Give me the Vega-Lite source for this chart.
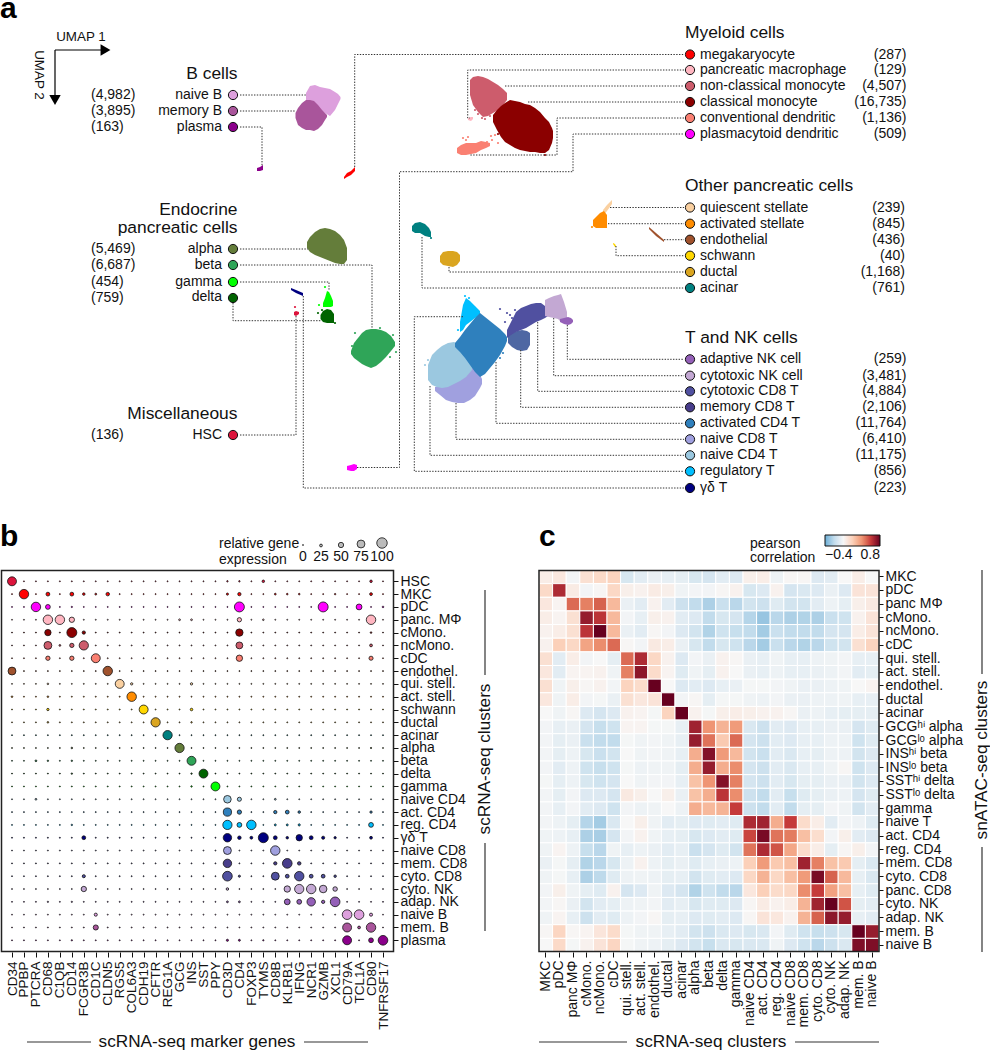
{"$schema":"https://vega.github.io/schema/vega-lite/v6.json","width":990,"height":1050,"autosize":{"type":"none"},"padding":0,"background":"white",
"config":{"view":{"stroke":null},"font":"Liberation Sans","text":{"font":"Liberation Sans","color":"#111"},"axis":{"grid":false,"domain":false,"title":null,"tickColor":"#111","tickWidth":1,"labelColor":"#111","labelOverlap":false,"labelBound":false,"labelFlush":false}},
"resolve":{"scale":{"x":"independent","y":"independent","color":"independent","size":"independent"},"axis":{"x":"independent","y":"independent"}},
"datasets":{"dots":[
{"c":"HSC","g":"CD34","v":85},{"c":"HSC","g":"PPBP","v":0},{"c":"HSC","g":"PTCRA","v":0},{"c":"HSC","g":"CD68","v":0},{"c":"HSC","g":"C1QB","v":0},{"c":"HSC","g":"CD14","v":0},{"c":"HSC","g":"FCGR3B","v":0},{"c":"HSC","g":"CD1C","v":0},{"c":"HSC","g":"CLDN5","v":0},{"c":"HSC","g":"RGS5","v":0},{"c":"HSC","g":"COL6A3","v":0},{"c":"HSC","g":"CDH19","v":0},{"c":"HSC","g":"CFTR","v":0},{"c":"HSC","g":"REG1A","v":0},{"c":"HSC","g":"GCG","v":0},{"c":"HSC","g":"INS","v":0},{"c":"HSC","g":"SST","v":0},{"c":"HSC","g":"PPY","v":0},{"c":"HSC","g":"CD3D","v":10},{"c":"HSC","g":"CD4","v":10},{"c":"HSC","g":"FOXP3","v":0},{"c":"HSC","g":"TYMS","v":22},{"c":"HSC","g":"CD8B","v":0},{"c":"HSC","g":"KLRB1","v":0},{"c":"HSC","g":"IFNG","v":0},{"c":"HSC","g":"NCR1","v":0},{"c":"HSC","g":"GZMB","v":0},{"c":"HSC","g":"XCL1","v":0},{"c":"HSC","g":"CD79A","v":0},{"c":"HSC","g":"TCL1A","v":0},{"c":"HSC","g":"CD80","v":22},{"c":"HSC","g":"TNFRSF17","v":0},
{"c":"MKC","g":"CD34","v":0},{"c":"MKC","g":"PPBP","v":90},{"c":"MKC","g":"PTCRA","v":0},{"c":"MKC","g":"CD68","v":35},{"c":"MKC","g":"C1QB","v":0},{"c":"MKC","g":"CD14","v":35},{"c":"MKC","g":"FCGR3B","v":22},{"c":"MKC","g":"CD1C","v":15},{"c":"MKC","g":"CLDN5","v":32},{"c":"MKC","g":"RGS5","v":0},{"c":"MKC","g":"COL6A3","v":0},{"c":"MKC","g":"CDH19","v":0},{"c":"MKC","g":"CFTR","v":0},{"c":"MKC","g":"REG1A","v":0},{"c":"MKC","g":"GCG","v":0},{"c":"MKC","g":"INS","v":0},{"c":"MKC","g":"SST","v":0},{"c":"MKC","g":"PPY","v":0},{"c":"MKC","g":"CD3D","v":18},{"c":"MKC","g":"CD4","v":30},{"c":"MKC","g":"FOXP3","v":0},{"c":"MKC","g":"TYMS","v":0},{"c":"MKC","g":"CD8B","v":14},{"c":"MKC","g":"KLRB1","v":12},{"c":"MKC","g":"IFNG","v":12},{"c":"MKC","g":"NCR1","v":0},{"c":"MKC","g":"GZMB","v":0},{"c":"MKC","g":"XCL1","v":10},{"c":"MKC","g":"CD79A","v":0},{"c":"MKC","g":"TCL1A","v":0},{"c":"MKC","g":"CD80","v":25},{"c":"MKC","g":"TNFRSF17","v":0},
{"c":"pDC","g":"CD34","v":0},{"c":"pDC","g":"PPBP","v":0},{"c":"pDC","g":"PTCRA","v":90},{"c":"pDC","g":"CD68","v":45},{"c":"pDC","g":"C1QB","v":0},{"c":"pDC","g":"CD14","v":8},{"c":"pDC","g":"FCGR3B","v":0},{"c":"pDC","g":"CD1C","v":0},{"c":"pDC","g":"CLDN5","v":0},{"c":"pDC","g":"RGS5","v":0},{"c":"pDC","g":"COL6A3","v":0},{"c":"pDC","g":"CDH19","v":0},{"c":"pDC","g":"CFTR","v":0},{"c":"pDC","g":"REG1A","v":0},{"c":"pDC","g":"GCG","v":0},{"c":"pDC","g":"INS","v":0},{"c":"pDC","g":"SST","v":0},{"c":"pDC","g":"PPY","v":0},{"c":"pDC","g":"CD3D","v":0},{"c":"pDC","g":"CD4","v":95},{"c":"pDC","g":"FOXP3","v":0},{"c":"pDC","g":"TYMS","v":0},{"c":"pDC","g":"CD8B","v":0},{"c":"pDC","g":"KLRB1","v":0},{"c":"pDC","g":"IFNG","v":0},{"c":"pDC","g":"NCR1","v":0},{"c":"pDC","g":"GZMB","v":95},{"c":"pDC","g":"XCL1","v":0},{"c":"pDC","g":"CD79A","v":0},{"c":"pDC","g":"TCL1A","v":55},{"c":"pDC","g":"CD80","v":0},{"c":"pDC","g":"TNFRSF17","v":12},
{"c":"panc. MΦ","g":"CD34","v":0},{"c":"panc. MΦ","g":"PPBP","v":0},{"c":"panc. MΦ","g":"PTCRA","v":0},{"c":"panc. MΦ","g":"CD68","v":90},{"c":"panc. MΦ","g":"C1QB","v":90},{"c":"panc. MΦ","g":"CD14","v":50},{"c":"panc. MΦ","g":"FCGR3B","v":0},{"c":"panc. MΦ","g":"CD1C","v":0},{"c":"panc. MΦ","g":"CLDN5","v":0},{"c":"panc. MΦ","g":"RGS5","v":0},{"c":"panc. MΦ","g":"COL6A3","v":0},{"c":"panc. MΦ","g":"CDH19","v":0},{"c":"panc. MΦ","g":"CFTR","v":0},{"c":"panc. MΦ","g":"REG1A","v":0},{"c":"panc. MΦ","g":"GCG","v":14},{"c":"panc. MΦ","g":"INS","v":14},{"c":"panc. MΦ","g":"SST","v":0},{"c":"panc. MΦ","g":"PPY","v":0},{"c":"panc. MΦ","g":"CD3D","v":0},{"c":"panc. MΦ","g":"CD4","v":40},{"c":"panc. MΦ","g":"FOXP3","v":0},{"c":"panc. MΦ","g":"TYMS","v":12},{"c":"panc. MΦ","g":"CD8B","v":0},{"c":"panc. MΦ","g":"KLRB1","v":0},{"c":"panc. MΦ","g":"IFNG","v":0},{"c":"panc. MΦ","g":"NCR1","v":0},{"c":"panc. MΦ","g":"GZMB","v":0},{"c":"panc. MΦ","g":"XCL1","v":0},{"c":"panc. MΦ","g":"CD79A","v":0},{"c":"panc. MΦ","g":"TCL1A","v":0},{"c":"panc. MΦ","g":"CD80","v":90},{"c":"panc. MΦ","g":"TNFRSF17","v":0},
{"c":"cMono.","g":"CD34","v":0},{"c":"cMono.","g":"PPBP","v":0},{"c":"cMono.","g":"PTCRA","v":0},{"c":"cMono.","g":"CD68","v":60},{"c":"cMono.","g":"C1QB","v":0},{"c":"cMono.","g":"CD14","v":95},{"c":"cMono.","g":"FCGR3B","v":30},{"c":"cMono.","g":"CD1C","v":0},{"c":"cMono.","g":"CLDN5","v":0},{"c":"cMono.","g":"RGS5","v":0},{"c":"cMono.","g":"COL6A3","v":0},{"c":"cMono.","g":"CDH19","v":0},{"c":"cMono.","g":"CFTR","v":0},{"c":"cMono.","g":"REG1A","v":0},{"c":"cMono.","g":"GCG","v":0},{"c":"cMono.","g":"INS","v":0},{"c":"cMono.","g":"SST","v":0},{"c":"cMono.","g":"PPY","v":0},{"c":"cMono.","g":"CD3D","v":0},{"c":"cMono.","g":"CD4","v":70},{"c":"cMono.","g":"FOXP3","v":0},{"c":"cMono.","g":"TYMS","v":0},{"c":"cMono.","g":"CD8B","v":0},{"c":"cMono.","g":"KLRB1","v":0},{"c":"cMono.","g":"IFNG","v":0},{"c":"cMono.","g":"NCR1","v":0},{"c":"cMono.","g":"GZMB","v":0},{"c":"cMono.","g":"XCL1","v":0},{"c":"cMono.","g":"CD79A","v":0},{"c":"cMono.","g":"TCL1A","v":0},{"c":"cMono.","g":"CD80","v":12},{"c":"cMono.","g":"TNFRSF17","v":0},
{"c":"ncMono.","g":"CD34","v":0},{"c":"ncMono.","g":"PPBP","v":0},{"c":"ncMono.","g":"PTCRA","v":0},{"c":"ncMono.","g":"CD68","v":75},{"c":"ncMono.","g":"C1QB","v":14},{"c":"ncMono.","g":"CD14","v":40},{"c":"ncMono.","g":"FCGR3B","v":88},{"c":"ncMono.","g":"CD1C","v":0},{"c":"ncMono.","g":"CLDN5","v":0},{"c":"ncMono.","g":"RGS5","v":0},{"c":"ncMono.","g":"COL6A3","v":0},{"c":"ncMono.","g":"CDH19","v":0},{"c":"ncMono.","g":"CFTR","v":0},{"c":"ncMono.","g":"REG1A","v":0},{"c":"ncMono.","g":"GCG","v":0},{"c":"ncMono.","g":"INS","v":0},{"c":"ncMono.","g":"SST","v":0},{"c":"ncMono.","g":"PPY","v":0},{"c":"ncMono.","g":"CD3D","v":0},{"c":"ncMono.","g":"CD4","v":65},{"c":"ncMono.","g":"FOXP3","v":0},{"c":"ncMono.","g":"TYMS","v":0},{"c":"ncMono.","g":"CD8B","v":0},{"c":"ncMono.","g":"KLRB1","v":0},{"c":"ncMono.","g":"IFNG","v":0},{"c":"ncMono.","g":"NCR1","v":0},{"c":"ncMono.","g":"GZMB","v":0},{"c":"ncMono.","g":"XCL1","v":0},{"c":"ncMono.","g":"CD79A","v":0},{"c":"ncMono.","g":"TCL1A","v":0},{"c":"ncMono.","g":"CD80","v":25},{"c":"ncMono.","g":"TNFRSF17","v":0},
{"c":"cDC","g":"CD34","v":0},{"c":"cDC","g":"PPBP","v":0},{"c":"cDC","g":"PTCRA","v":0},{"c":"cDC","g":"CD68","v":40},{"c":"cDC","g":"C1QB","v":0},{"c":"cDC","g":"CD14","v":40},{"c":"cDC","g":"FCGR3B","v":0},{"c":"cDC","g":"CD1C","v":85},{"c":"cDC","g":"CLDN5","v":0},{"c":"cDC","g":"RGS5","v":0},{"c":"cDC","g":"COL6A3","v":0},{"c":"cDC","g":"CDH19","v":0},{"c":"cDC","g":"CFTR","v":0},{"c":"cDC","g":"REG1A","v":0},{"c":"cDC","g":"GCG","v":0},{"c":"cDC","g":"INS","v":0},{"c":"cDC","g":"SST","v":0},{"c":"cDC","g":"PPY","v":0},{"c":"cDC","g":"CD3D","v":0},{"c":"cDC","g":"CD4","v":60},{"c":"cDC","g":"FOXP3","v":0},{"c":"cDC","g":"TYMS","v":0},{"c":"cDC","g":"CD8B","v":0},{"c":"cDC","g":"KLRB1","v":0},{"c":"cDC","g":"IFNG","v":0},{"c":"cDC","g":"NCR1","v":0},{"c":"cDC","g":"GZMB","v":0},{"c":"cDC","g":"XCL1","v":0},{"c":"cDC","g":"CD79A","v":0},{"c":"cDC","g":"TCL1A","v":0},{"c":"cDC","g":"CD80","v":38},{"c":"cDC","g":"TNFRSF17","v":0},
{"c":"endothel.","g":"CD34","v":75},{"c":"endothel.","g":"PPBP","v":0},{"c":"endothel.","g":"PTCRA","v":0},{"c":"endothel.","g":"CD68","v":0},{"c":"endothel.","g":"C1QB","v":0},{"c":"endothel.","g":"CD14","v":0},{"c":"endothel.","g":"FCGR3B","v":0},{"c":"endothel.","g":"CD1C","v":0},{"c":"endothel.","g":"CLDN5","v":90},{"c":"endothel.","g":"RGS5","v":0},{"c":"endothel.","g":"COL6A3","v":0},{"c":"endothel.","g":"CDH19","v":0},{"c":"endothel.","g":"CFTR","v":0},{"c":"endothel.","g":"REG1A","v":0},{"c":"endothel.","g":"GCG","v":0},{"c":"endothel.","g":"INS","v":0},{"c":"endothel.","g":"SST","v":0},{"c":"endothel.","g":"PPY","v":0},{"c":"endothel.","g":"CD3D","v":0},{"c":"endothel.","g":"CD4","v":0},{"c":"endothel.","g":"FOXP3","v":0},{"c":"endothel.","g":"TYMS","v":0},{"c":"endothel.","g":"CD8B","v":0},{"c":"endothel.","g":"KLRB1","v":0},{"c":"endothel.","g":"IFNG","v":0},{"c":"endothel.","g":"NCR1","v":0},{"c":"endothel.","g":"GZMB","v":0},{"c":"endothel.","g":"XCL1","v":0},{"c":"endothel.","g":"CD79A","v":0},{"c":"endothel.","g":"TCL1A","v":0},{"c":"endothel.","g":"CD80","v":0},{"c":"endothel.","g":"TNFRSF17","v":0},
{"c":"qui. stell.","g":"CD34","v":0},{"c":"qui. stell.","g":"PPBP","v":0},{"c":"qui. stell.","g":"PTCRA","v":0},{"c":"qui. stell.","g":"CD68","v":12},{"c":"qui. stell.","g":"C1QB","v":0},{"c":"qui. stell.","g":"CD14","v":0},{"c":"qui. stell.","g":"FCGR3B","v":0},{"c":"qui. stell.","g":"CD1C","v":0},{"c":"qui. stell.","g":"CLDN5","v":0},{"c":"qui. stell.","g":"RGS5","v":85},{"c":"qui. stell.","g":"COL6A3","v":20},{"c":"qui. stell.","g":"CDH19","v":0},{"c":"qui. stell.","g":"CFTR","v":0},{"c":"qui. stell.","g":"REG1A","v":0},{"c":"qui. stell.","g":"GCG","v":0},{"c":"qui. stell.","g":"INS","v":20},{"c":"qui. stell.","g":"SST","v":0},{"c":"qui. stell.","g":"PPY","v":0},{"c":"qui. stell.","g":"CD3D","v":0},{"c":"qui. stell.","g":"CD4","v":0},{"c":"qui. stell.","g":"FOXP3","v":0},{"c":"qui. stell.","g":"TYMS","v":0},{"c":"qui. stell.","g":"CD8B","v":0},{"c":"qui. stell.","g":"KLRB1","v":0},{"c":"qui. stell.","g":"IFNG","v":0},{"c":"qui. stell.","g":"NCR1","v":0},{"c":"qui. stell.","g":"GZMB","v":0},{"c":"qui. stell.","g":"XCL1","v":0},{"c":"qui. stell.","g":"CD79A","v":0},{"c":"qui. stell.","g":"TCL1A","v":0},{"c":"qui. stell.","g":"CD80","v":0},{"c":"qui. stell.","g":"TNFRSF17","v":0},
{"c":"act. stell.","g":"CD34","v":12},{"c":"act. stell.","g":"PPBP","v":0},{"c":"act. stell.","g":"PTCRA","v":0},{"c":"act. stell.","g":"CD68","v":12},{"c":"act. stell.","g":"C1QB","v":0},{"c":"act. stell.","g":"CD14","v":0},{"c":"act. stell.","g":"FCGR3B","v":0},{"c":"act. stell.","g":"CD1C","v":0},{"c":"act. stell.","g":"CLDN5","v":0},{"c":"act. stell.","g":"RGS5","v":0},{"c":"act. stell.","g":"COL6A3","v":90},{"c":"act. stell.","g":"CDH19","v":0},{"c":"act. stell.","g":"CFTR","v":0},{"c":"act. stell.","g":"REG1A","v":0},{"c":"act. stell.","g":"GCG","v":0},{"c":"act. stell.","g":"INS","v":0},{"c":"act. stell.","g":"SST","v":0},{"c":"act. stell.","g":"PPY","v":0},{"c":"act. stell.","g":"CD3D","v":0},{"c":"act. stell.","g":"CD4","v":0},{"c":"act. stell.","g":"FOXP3","v":0},{"c":"act. stell.","g":"TYMS","v":0},{"c":"act. stell.","g":"CD8B","v":0},{"c":"act. stell.","g":"KLRB1","v":0},{"c":"act. stell.","g":"IFNG","v":0},{"c":"act. stell.","g":"NCR1","v":0},{"c":"act. stell.","g":"GZMB","v":0},{"c":"act. stell.","g":"XCL1","v":0},{"c":"act. stell.","g":"CD79A","v":0},{"c":"act. stell.","g":"TCL1A","v":0},{"c":"act. stell.","g":"CD80","v":0},{"c":"act. stell.","g":"TNFRSF17","v":0},
{"c":"schwann","g":"CD34","v":0},{"c":"schwann","g":"PPBP","v":0},{"c":"schwann","g":"PTCRA","v":0},{"c":"schwann","g":"CD68","v":20},{"c":"schwann","g":"C1QB","v":0},{"c":"schwann","g":"CD14","v":0},{"c":"schwann","g":"FCGR3B","v":0},{"c":"schwann","g":"CD1C","v":0},{"c":"schwann","g":"CLDN5","v":0},{"c":"schwann","g":"RGS5","v":0},{"c":"schwann","g":"COL6A3","v":0},{"c":"schwann","g":"CDH19","v":85},{"c":"schwann","g":"CFTR","v":0},{"c":"schwann","g":"REG1A","v":0},{"c":"schwann","g":"GCG","v":0},{"c":"schwann","g":"INS","v":22},{"c":"schwann","g":"SST","v":0},{"c":"schwann","g":"PPY","v":0},{"c":"schwann","g":"CD3D","v":0},{"c":"schwann","g":"CD4","v":0},{"c":"schwann","g":"FOXP3","v":0},{"c":"schwann","g":"TYMS","v":0},{"c":"schwann","g":"CD8B","v":0},{"c":"schwann","g":"KLRB1","v":0},{"c":"schwann","g":"IFNG","v":0},{"c":"schwann","g":"NCR1","v":0},{"c":"schwann","g":"GZMB","v":0},{"c":"schwann","g":"XCL1","v":0},{"c":"schwann","g":"CD79A","v":0},{"c":"schwann","g":"TCL1A","v":0},{"c":"schwann","g":"CD80","v":0},{"c":"schwann","g":"TNFRSF17","v":0},
{"c":"ductal","g":"CD34","v":0},{"c":"ductal","g":"PPBP","v":0},{"c":"ductal","g":"PTCRA","v":0},{"c":"ductal","g":"CD68","v":12},{"c":"ductal","g":"C1QB","v":0},{"c":"ductal","g":"CD14","v":0},{"c":"ductal","g":"FCGR3B","v":0},{"c":"ductal","g":"CD1C","v":0},{"c":"ductal","g":"CLDN5","v":0},{"c":"ductal","g":"RGS5","v":0},{"c":"ductal","g":"COL6A3","v":0},{"c":"ductal","g":"CDH19","v":0},{"c":"ductal","g":"CFTR","v":88},{"c":"ductal","g":"REG1A","v":0},{"c":"ductal","g":"GCG","v":0},{"c":"ductal","g":"INS","v":10},{"c":"ductal","g":"SST","v":0},{"c":"ductal","g":"PPY","v":0},{"c":"ductal","g":"CD3D","v":0},{"c":"ductal","g":"CD4","v":0},{"c":"ductal","g":"FOXP3","v":0},{"c":"ductal","g":"TYMS","v":0},{"c":"ductal","g":"CD8B","v":0},{"c":"ductal","g":"KLRB1","v":0},{"c":"ductal","g":"IFNG","v":0},{"c":"ductal","g":"NCR1","v":0},{"c":"ductal","g":"GZMB","v":0},{"c":"ductal","g":"XCL1","v":0},{"c":"ductal","g":"CD79A","v":0},{"c":"ductal","g":"TCL1A","v":0},{"c":"ductal","g":"CD80","v":0},{"c":"ductal","g":"TNFRSF17","v":0},
{"c":"acinar","g":"CD34","v":0},{"c":"acinar","g":"PPBP","v":0},{"c":"acinar","g":"PTCRA","v":0},{"c":"acinar","g":"CD68","v":0},{"c":"acinar","g":"C1QB","v":0},{"c":"acinar","g":"CD14","v":0},{"c":"acinar","g":"FCGR3B","v":0},{"c":"acinar","g":"CD1C","v":0},{"c":"acinar","g":"CLDN5","v":0},{"c":"acinar","g":"RGS5","v":0},{"c":"acinar","g":"COL6A3","v":0},{"c":"acinar","g":"CDH19","v":0},{"c":"acinar","g":"CFTR","v":0},{"c":"acinar","g":"REG1A","v":88},{"c":"acinar","g":"GCG","v":0},{"c":"acinar","g":"INS","v":0},{"c":"acinar","g":"SST","v":0},{"c":"acinar","g":"PPY","v":0},{"c":"acinar","g":"CD3D","v":0},{"c":"acinar","g":"CD4","v":0},{"c":"acinar","g":"FOXP3","v":0},{"c":"acinar","g":"TYMS","v":0},{"c":"acinar","g":"CD8B","v":0},{"c":"acinar","g":"KLRB1","v":0},{"c":"acinar","g":"IFNG","v":0},{"c":"acinar","g":"NCR1","v":0},{"c":"acinar","g":"GZMB","v":0},{"c":"acinar","g":"XCL1","v":0},{"c":"acinar","g":"CD79A","v":0},{"c":"acinar","g":"TCL1A","v":0},{"c":"acinar","g":"CD80","v":0},{"c":"acinar","g":"TNFRSF17","v":0},
{"c":"alpha","g":"CD34","v":0},{"c":"alpha","g":"PPBP","v":0},{"c":"alpha","g":"PTCRA","v":0},{"c":"alpha","g":"CD68","v":0},{"c":"alpha","g":"C1QB","v":0},{"c":"alpha","g":"CD14","v":12},{"c":"alpha","g":"FCGR3B","v":0},{"c":"alpha","g":"CD1C","v":0},{"c":"alpha","g":"CLDN5","v":0},{"c":"alpha","g":"RGS5","v":0},{"c":"alpha","g":"COL6A3","v":0},{"c":"alpha","g":"CDH19","v":0},{"c":"alpha","g":"CFTR","v":0},{"c":"alpha","g":"REG1A","v":0},{"c":"alpha","g":"GCG","v":88},{"c":"alpha","g":"INS","v":0},{"c":"alpha","g":"SST","v":0},{"c":"alpha","g":"PPY","v":0},{"c":"alpha","g":"CD3D","v":0},{"c":"alpha","g":"CD4","v":0},{"c":"alpha","g":"FOXP3","v":0},{"c":"alpha","g":"TYMS","v":0},{"c":"alpha","g":"CD8B","v":0},{"c":"alpha","g":"KLRB1","v":0},{"c":"alpha","g":"IFNG","v":0},{"c":"alpha","g":"NCR1","v":0},{"c":"alpha","g":"GZMB","v":0},{"c":"alpha","g":"XCL1","v":0},{"c":"alpha","g":"CD79A","v":0},{"c":"alpha","g":"TCL1A","v":0},{"c":"alpha","g":"CD80","v":8},{"c":"alpha","g":"TNFRSF17","v":0},
{"c":"beta","g":"CD34","v":0},{"c":"beta","g":"PPBP","v":0},{"c":"beta","g":"PTCRA","v":14},{"c":"beta","g":"CD68","v":10},{"c":"beta","g":"C1QB","v":0},{"c":"beta","g":"CD14","v":10},{"c":"beta","g":"FCGR3B","v":0},{"c":"beta","g":"CD1C","v":0},{"c":"beta","g":"CLDN5","v":0},{"c":"beta","g":"RGS5","v":0},{"c":"beta","g":"COL6A3","v":0},{"c":"beta","g":"CDH19","v":0},{"c":"beta","g":"CFTR","v":0},{"c":"beta","g":"REG1A","v":0},{"c":"beta","g":"GCG","v":0},{"c":"beta","g":"INS","v":85},{"c":"beta","g":"SST","v":0},{"c":"beta","g":"PPY","v":0},{"c":"beta","g":"CD3D","v":0},{"c":"beta","g":"CD4","v":0},{"c":"beta","g":"FOXP3","v":0},{"c":"beta","g":"TYMS","v":0},{"c":"beta","g":"CD8B","v":0},{"c":"beta","g":"KLRB1","v":0},{"c":"beta","g":"IFNG","v":0},{"c":"beta","g":"NCR1","v":0},{"c":"beta","g":"GZMB","v":0},{"c":"beta","g":"XCL1","v":0},{"c":"beta","g":"CD79A","v":0},{"c":"beta","g":"TCL1A","v":0},{"c":"beta","g":"CD80","v":0},{"c":"beta","g":"TNFRSF17","v":0},
{"c":"delta","g":"CD34","v":0},{"c":"delta","g":"PPBP","v":0},{"c":"delta","g":"PTCRA","v":0},{"c":"delta","g":"CD68","v":0},{"c":"delta","g":"C1QB","v":0},{"c":"delta","g":"CD14","v":10},{"c":"delta","g":"FCGR3B","v":0},{"c":"delta","g":"CD1C","v":0},{"c":"delta","g":"CLDN5","v":0},{"c":"delta","g":"RGS5","v":0},{"c":"delta","g":"COL6A3","v":0},{"c":"delta","g":"CDH19","v":0},{"c":"delta","g":"CFTR","v":0},{"c":"delta","g":"REG1A","v":0},{"c":"delta","g":"GCG","v":0},{"c":"delta","g":"INS","v":10},{"c":"delta","g":"SST","v":85},{"c":"delta","g":"PPY","v":0},{"c":"delta","g":"CD3D","v":0},{"c":"delta","g":"CD4","v":0},{"c":"delta","g":"FOXP3","v":0},{"c":"delta","g":"TYMS","v":0},{"c":"delta","g":"CD8B","v":0},{"c":"delta","g":"KLRB1","v":0},{"c":"delta","g":"IFNG","v":0},{"c":"delta","g":"NCR1","v":0},{"c":"delta","g":"GZMB","v":0},{"c":"delta","g":"XCL1","v":0},{"c":"delta","g":"CD79A","v":0},{"c":"delta","g":"TCL1A","v":0},{"c":"delta","g":"CD80","v":0},{"c":"delta","g":"TNFRSF17","v":0},
{"c":"gamma","g":"CD34","v":0},{"c":"gamma","g":"PPBP","v":0},{"c":"gamma","g":"PTCRA","v":0},{"c":"gamma","g":"CD68","v":0},{"c":"gamma","g":"C1QB","v":0},{"c":"gamma","g":"CD14","v":0},{"c":"gamma","g":"FCGR3B","v":0},{"c":"gamma","g":"CD1C","v":0},{"c":"gamma","g":"CLDN5","v":0},{"c":"gamma","g":"RGS5","v":0},{"c":"gamma","g":"COL6A3","v":0},{"c":"gamma","g":"CDH19","v":0},{"c":"gamma","g":"CFTR","v":0},{"c":"gamma","g":"REG1A","v":0},{"c":"gamma","g":"GCG","v":0},{"c":"gamma","g":"INS","v":10},{"c":"gamma","g":"SST","v":0},{"c":"gamma","g":"PPY","v":85},{"c":"gamma","g":"CD3D","v":0},{"c":"gamma","g":"CD4","v":0},{"c":"gamma","g":"FOXP3","v":0},{"c":"gamma","g":"TYMS","v":0},{"c":"gamma","g":"CD8B","v":0},{"c":"gamma","g":"KLRB1","v":0},{"c":"gamma","g":"IFNG","v":0},{"c":"gamma","g":"NCR1","v":0},{"c":"gamma","g":"GZMB","v":0},{"c":"gamma","g":"XCL1","v":0},{"c":"gamma","g":"CD79A","v":0},{"c":"gamma","g":"TCL1A","v":0},{"c":"gamma","g":"CD80","v":0},{"c":"gamma","g":"TNFRSF17","v":0},
{"c":"naive CD4","g":"CD34","v":0},{"c":"naive CD4","g":"PPBP","v":0},{"c":"naive CD4","g":"PTCRA","v":14},{"c":"naive CD4","g":"CD68","v":0},{"c":"naive CD4","g":"C1QB","v":0},{"c":"naive CD4","g":"CD14","v":0},{"c":"naive CD4","g":"FCGR3B","v":0},{"c":"naive CD4","g":"CD1C","v":0},{"c":"naive CD4","g":"CLDN5","v":0},{"c":"naive CD4","g":"RGS5","v":0},{"c":"naive CD4","g":"COL6A3","v":0},{"c":"naive CD4","g":"CDH19","v":0},{"c":"naive CD4","g":"CFTR","v":0},{"c":"naive CD4","g":"REG1A","v":0},{"c":"naive CD4","g":"GCG","v":0},{"c":"naive CD4","g":"INS","v":0},{"c":"naive CD4","g":"SST","v":0},{"c":"naive CD4","g":"PPY","v":0},{"c":"naive CD4","g":"CD3D","v":72},{"c":"naive CD4","g":"CD4","v":38},{"c":"naive CD4","g":"FOXP3","v":0},{"c":"naive CD4","g":"TYMS","v":0},{"c":"naive CD4","g":"CD8B","v":14},{"c":"naive CD4","g":"KLRB1","v":0},{"c":"naive CD4","g":"IFNG","v":0},{"c":"naive CD4","g":"NCR1","v":0},{"c":"naive CD4","g":"GZMB","v":0},{"c":"naive CD4","g":"XCL1","v":0},{"c":"naive CD4","g":"CD79A","v":0},{"c":"naive CD4","g":"TCL1A","v":0},{"c":"naive CD4","g":"CD80","v":0},{"c":"naive CD4","g":"TNFRSF17","v":0},
{"c":"act. CD4","g":"CD34","v":0},{"c":"act. CD4","g":"PPBP","v":0},{"c":"act. CD4","g":"PTCRA","v":0},{"c":"act. CD4","g":"CD68","v":0},{"c":"act. CD4","g":"C1QB","v":0},{"c":"act. CD4","g":"CD14","v":0},{"c":"act. CD4","g":"FCGR3B","v":0},{"c":"act. CD4","g":"CD1C","v":0},{"c":"act. CD4","g":"CLDN5","v":0},{"c":"act. CD4","g":"RGS5","v":0},{"c":"act. CD4","g":"COL6A3","v":0},{"c":"act. CD4","g":"CDH19","v":0},{"c":"act. CD4","g":"CFTR","v":0},{"c":"act. CD4","g":"REG1A","v":0},{"c":"act. CD4","g":"GCG","v":0},{"c":"act. CD4","g":"INS","v":0},{"c":"act. CD4","g":"SST","v":0},{"c":"act. CD4","g":"PPY","v":0},{"c":"act. CD4","g":"CD3D","v":78},{"c":"act. CD4","g":"CD4","v":40},{"c":"act. CD4","g":"FOXP3","v":0},{"c":"act. CD4","g":"TYMS","v":0},{"c":"act. CD4","g":"CD8B","v":30},{"c":"act. CD4","g":"KLRB1","v":35},{"c":"act. CD4","g":"IFNG","v":22},{"c":"act. CD4","g":"NCR1","v":0},{"c":"act. CD4","g":"GZMB","v":0},{"c":"act. CD4","g":"XCL1","v":0},{"c":"act. CD4","g":"CD79A","v":0},{"c":"act. CD4","g":"TCL1A","v":0},{"c":"act. CD4","g":"CD80","v":20},{"c":"act. CD4","g":"TNFRSF17","v":0},
{"c":"reg. CD4","g":"CD34","v":0},{"c":"reg. CD4","g":"PPBP","v":0},{"c":"reg. CD4","g":"PTCRA","v":0},{"c":"reg. CD4","g":"CD68","v":0},{"c":"reg. CD4","g":"C1QB","v":0},{"c":"reg. CD4","g":"CD14","v":10},{"c":"reg. CD4","g":"FCGR3B","v":0},{"c":"reg. CD4","g":"CD1C","v":0},{"c":"reg. CD4","g":"CLDN5","v":0},{"c":"reg. CD4","g":"RGS5","v":0},{"c":"reg. CD4","g":"COL6A3","v":0},{"c":"reg. CD4","g":"CDH19","v":0},{"c":"reg. CD4","g":"CFTR","v":0},{"c":"reg. CD4","g":"REG1A","v":0},{"c":"reg. CD4","g":"GCG","v":0},{"c":"reg. CD4","g":"INS","v":0},{"c":"reg. CD4","g":"SST","v":0},{"c":"reg. CD4","g":"PPY","v":0},{"c":"reg. CD4","g":"CD3D","v":88},{"c":"reg. CD4","g":"CD4","v":45},{"c":"reg. CD4","g":"FOXP3","v":90},{"c":"reg. CD4","g":"TYMS","v":0},{"c":"reg. CD4","g":"CD8B","v":16},{"c":"reg. CD4","g":"KLRB1","v":16},{"c":"reg. CD4","g":"IFNG","v":18},{"c":"reg. CD4","g":"NCR1","v":0},{"c":"reg. CD4","g":"GZMB","v":0},{"c":"reg. CD4","g":"XCL1","v":0},{"c":"reg. CD4","g":"CD79A","v":0},{"c":"reg. CD4","g":"TCL1A","v":0},{"c":"reg. CD4","g":"CD80","v":45},{"c":"reg. CD4","g":"TNFRSF17","v":0},
{"c":"γδ T","g":"CD34","v":0},{"c":"γδ T","g":"PPBP","v":0},{"c":"γδ T","g":"PTCRA","v":0},{"c":"γδ T","g":"CD68","v":0},{"c":"γδ T","g":"C1QB","v":0},{"c":"γδ T","g":"CD14","v":0},{"c":"γδ T","g":"FCGR3B","v":35},{"c":"γδ T","g":"CD1C","v":0},{"c":"γδ T","g":"CLDN5","v":0},{"c":"γδ T","g":"RGS5","v":0},{"c":"γδ T","g":"COL6A3","v":0},{"c":"γδ T","g":"CDH19","v":0},{"c":"γδ T","g":"CFTR","v":0},{"c":"γδ T","g":"REG1A","v":0},{"c":"γδ T","g":"GCG","v":0},{"c":"γδ T","g":"INS","v":0},{"c":"γδ T","g":"SST","v":0},{"c":"γδ T","g":"PPY","v":0},{"c":"γδ T","g":"CD3D","v":80},{"c":"γδ T","g":"CD4","v":32},{"c":"γδ T","g":"FOXP3","v":25},{"c":"γδ T","g":"TYMS","v":95},{"c":"γδ T","g":"CD8B","v":35},{"c":"γδ T","g":"KLRB1","v":22},{"c":"γδ T","g":"IFNG","v":60},{"c":"γδ T","g":"NCR1","v":35},{"c":"γδ T","g":"GZMB","v":28},{"c":"γδ T","g":"XCL1","v":20},{"c":"γδ T","g":"CD79A","v":0},{"c":"γδ T","g":"TCL1A","v":0},{"c":"γδ T","g":"CD80","v":25},{"c":"γδ T","g":"TNFRSF17","v":0},
{"c":"naive CD8","g":"CD34","v":0},{"c":"naive CD8","g":"PPBP","v":0},{"c":"naive CD8","g":"PTCRA","v":0},{"c":"naive CD8","g":"CD68","v":0},{"c":"naive CD8","g":"C1QB","v":0},{"c":"naive CD8","g":"CD14","v":0},{"c":"naive CD8","g":"FCGR3B","v":0},{"c":"naive CD8","g":"CD1C","v":0},{"c":"naive CD8","g":"CLDN5","v":0},{"c":"naive CD8","g":"RGS5","v":0},{"c":"naive CD8","g":"COL6A3","v":0},{"c":"naive CD8","g":"CDH19","v":0},{"c":"naive CD8","g":"CFTR","v":0},{"c":"naive CD8","g":"REG1A","v":0},{"c":"naive CD8","g":"GCG","v":0},{"c":"naive CD8","g":"INS","v":0},{"c":"naive CD8","g":"SST","v":0},{"c":"naive CD8","g":"PPY","v":0},{"c":"naive CD8","g":"CD3D","v":75},{"c":"naive CD8","g":"CD4","v":0},{"c":"naive CD8","g":"FOXP3","v":0},{"c":"naive CD8","g":"TYMS","v":0},{"c":"naive CD8","g":"CD8B","v":90},{"c":"naive CD8","g":"KLRB1","v":0},{"c":"naive CD8","g":"IFNG","v":0},{"c":"naive CD8","g":"NCR1","v":0},{"c":"naive CD8","g":"GZMB","v":0},{"c":"naive CD8","g":"XCL1","v":0},{"c":"naive CD8","g":"CD79A","v":0},{"c":"naive CD8","g":"TCL1A","v":0},{"c":"naive CD8","g":"CD80","v":0},{"c":"naive CD8","g":"TNFRSF17","v":0},
{"c":"mem. CD8","g":"CD34","v":0},{"c":"mem. CD8","g":"PPBP","v":0},{"c":"mem. CD8","g":"PTCRA","v":0},{"c":"mem. CD8","g":"CD68","v":0},{"c":"mem. CD8","g":"C1QB","v":0},{"c":"mem. CD8","g":"CD14","v":0},{"c":"mem. CD8","g":"FCGR3B","v":0},{"c":"mem. CD8","g":"CD1C","v":0},{"c":"mem. CD8","g":"CLDN5","v":0},{"c":"mem. CD8","g":"RGS5","v":0},{"c":"mem. CD8","g":"COL6A3","v":0},{"c":"mem. CD8","g":"CDH19","v":0},{"c":"mem. CD8","g":"CFTR","v":0},{"c":"mem. CD8","g":"REG1A","v":0},{"c":"mem. CD8","g":"GCG","v":0},{"c":"mem. CD8","g":"INS","v":0},{"c":"mem. CD8","g":"SST","v":0},{"c":"mem. CD8","g":"PPY","v":0},{"c":"mem. CD8","g":"CD3D","v":80},{"c":"mem. CD8","g":"CD4","v":0},{"c":"mem. CD8","g":"FOXP3","v":0},{"c":"mem. CD8","g":"TYMS","v":0},{"c":"mem. CD8","g":"CD8B","v":30},{"c":"mem. CD8","g":"KLRB1","v":92},{"c":"mem. CD8","g":"IFNG","v":32},{"c":"mem. CD8","g":"NCR1","v":0},{"c":"mem. CD8","g":"GZMB","v":0},{"c":"mem. CD8","g":"XCL1","v":0},{"c":"mem. CD8","g":"CD79A","v":0},{"c":"mem. CD8","g":"TCL1A","v":0},{"c":"mem. CD8","g":"CD80","v":0},{"c":"mem. CD8","g":"TNFRSF17","v":0},
{"c":"cyto. CD8","g":"CD34","v":0},{"c":"cyto. CD8","g":"PPBP","v":0},{"c":"cyto. CD8","g":"PTCRA","v":0},{"c":"cyto. CD8","g":"CD68","v":0},{"c":"cyto. CD8","g":"C1QB","v":0},{"c":"cyto. CD8","g":"CD14","v":0},{"c":"cyto. CD8","g":"FCGR3B","v":28},{"c":"cyto. CD8","g":"CD1C","v":0},{"c":"cyto. CD8","g":"CLDN5","v":0},{"c":"cyto. CD8","g":"RGS5","v":0},{"c":"cyto. CD8","g":"COL6A3","v":0},{"c":"cyto. CD8","g":"CDH19","v":0},{"c":"cyto. CD8","g":"CFTR","v":0},{"c":"cyto. CD8","g":"REG1A","v":0},{"c":"cyto. CD8","g":"GCG","v":0},{"c":"cyto. CD8","g":"INS","v":0},{"c":"cyto. CD8","g":"SST","v":0},{"c":"cyto. CD8","g":"PPY","v":0},{"c":"cyto. CD8","g":"CD3D","v":92},{"c":"cyto. CD8","g":"CD4","v":18},{"c":"cyto. CD8","g":"FOXP3","v":0},{"c":"cyto. CD8","g":"TYMS","v":0},{"c":"cyto. CD8","g":"CD8B","v":75},{"c":"cyto. CD8","g":"KLRB1","v":35},{"c":"cyto. CD8","g":"IFNG","v":90},{"c":"cyto. CD8","g":"NCR1","v":35},{"c":"cyto. CD8","g":"GZMB","v":35},{"c":"cyto. CD8","g":"XCL1","v":22},{"c":"cyto. CD8","g":"CD79A","v":0},{"c":"cyto. CD8","g":"TCL1A","v":0},{"c":"cyto. CD8","g":"CD80","v":0},{"c":"cyto. CD8","g":"TNFRSF17","v":0},
{"c":"cyto. NK","g":"CD34","v":0},{"c":"cyto. NK","g":"PPBP","v":0},{"c":"cyto. NK","g":"PTCRA","v":0},{"c":"cyto. NK","g":"CD68","v":0},{"c":"cyto. NK","g":"C1QB","v":0},{"c":"cyto. NK","g":"CD14","v":0},{"c":"cyto. NK","g":"FCGR3B","v":50},{"c":"cyto. NK","g":"CD1C","v":0},{"c":"cyto. NK","g":"CLDN5","v":0},{"c":"cyto. NK","g":"RGS5","v":0},{"c":"cyto. NK","g":"COL6A3","v":0},{"c":"cyto. NK","g":"CDH19","v":0},{"c":"cyto. NK","g":"CFTR","v":0},{"c":"cyto. NK","g":"REG1A","v":0},{"c":"cyto. NK","g":"GCG","v":0},{"c":"cyto. NK","g":"INS","v":0},{"c":"cyto. NK","g":"SST","v":0},{"c":"cyto. NK","g":"PPY","v":0},{"c":"cyto. NK","g":"CD3D","v":22},{"c":"cyto. NK","g":"CD4","v":0},{"c":"cyto. NK","g":"FOXP3","v":0},{"c":"cyto. NK","g":"TYMS","v":0},{"c":"cyto. NK","g":"CD8B","v":0},{"c":"cyto. NK","g":"KLRB1","v":60},{"c":"cyto. NK","g":"IFNG","v":88},{"c":"cyto. NK","g":"NCR1","v":90},{"c":"cyto. NK","g":"GZMB","v":72},{"c":"cyto. NK","g":"XCL1","v":42},{"c":"cyto. NK","g":"CD79A","v":0},{"c":"cyto. NK","g":"TCL1A","v":0},{"c":"cyto. NK","g":"CD80","v":0},{"c":"cyto. NK","g":"TNFRSF17","v":0},
{"c":"adap. NK","g":"CD34","v":0},{"c":"adap. NK","g":"PPBP","v":0},{"c":"adap. NK","g":"PTCRA","v":0},{"c":"adap. NK","g":"CD68","v":8},{"c":"adap. NK","g":"C1QB","v":0},{"c":"adap. NK","g":"CD14","v":8},{"c":"adap. NK","g":"FCGR3B","v":0},{"c":"adap. NK","g":"CD1C","v":0},{"c":"adap. NK","g":"CLDN5","v":0},{"c":"adap. NK","g":"RGS5","v":0},{"c":"adap. NK","g":"COL6A3","v":0},{"c":"adap. NK","g":"CDH19","v":0},{"c":"adap. NK","g":"CFTR","v":0},{"c":"adap. NK","g":"REG1A","v":0},{"c":"adap. NK","g":"GCG","v":0},{"c":"adap. NK","g":"INS","v":0},{"c":"adap. NK","g":"SST","v":0},{"c":"adap. NK","g":"PPY","v":0},{"c":"adap. NK","g":"CD3D","v":15},{"c":"adap. NK","g":"CD4","v":15},{"c":"adap. NK","g":"FOXP3","v":0},{"c":"adap. NK","g":"TYMS","v":0},{"c":"adap. NK","g":"CD8B","v":0},{"c":"adap. NK","g":"KLRB1","v":55},{"c":"adap. NK","g":"IFNG","v":45},{"c":"adap. NK","g":"NCR1","v":80},{"c":"adap. NK","g":"GZMB","v":30},{"c":"adap. NK","g":"XCL1","v":92},{"c":"adap. NK","g":"CD79A","v":0},{"c":"adap. NK","g":"TCL1A","v":0},{"c":"adap. NK","g":"CD80","v":0},{"c":"adap. NK","g":"TNFRSF17","v":0},
{"c":"naive B","g":"CD34","v":0},{"c":"naive B","g":"PPBP","v":0},{"c":"naive B","g":"PTCRA","v":0},{"c":"naive B","g":"CD68","v":0},{"c":"naive B","g":"C1QB","v":0},{"c":"naive B","g":"CD14","v":0},{"c":"naive B","g":"FCGR3B","v":0},{"c":"naive B","g":"CD1C","v":28},{"c":"naive B","g":"CLDN5","v":0},{"c":"naive B","g":"RGS5","v":0},{"c":"naive B","g":"COL6A3","v":0},{"c":"naive B","g":"CDH19","v":0},{"c":"naive B","g":"CFTR","v":0},{"c":"naive B","g":"REG1A","v":0},{"c":"naive B","g":"GCG","v":0},{"c":"naive B","g":"INS","v":0},{"c":"naive B","g":"SST","v":0},{"c":"naive B","g":"PPY","v":0},{"c":"naive B","g":"CD3D","v":0},{"c":"naive B","g":"CD4","v":0},{"c":"naive B","g":"FOXP3","v":0},{"c":"naive B","g":"TYMS","v":0},{"c":"naive B","g":"CD8B","v":0},{"c":"naive B","g":"KLRB1","v":0},{"c":"naive B","g":"IFNG","v":0},{"c":"naive B","g":"NCR1","v":0},{"c":"naive B","g":"GZMB","v":0},{"c":"naive B","g":"XCL1","v":0},{"c":"naive B","g":"CD79A","v":92},{"c":"naive B","g":"TCL1A","v":92},{"c":"naive B","g":"CD80","v":28},{"c":"naive B","g":"TNFRSF17","v":0},
{"c":"mem. B","g":"CD34","v":0},{"c":"mem. B","g":"PPBP","v":0},{"c":"mem. B","g":"PTCRA","v":0},{"c":"mem. B","g":"CD68","v":0},{"c":"mem. B","g":"C1QB","v":0},{"c":"mem. B","g":"CD14","v":0},{"c":"mem. B","g":"FCGR3B","v":0},{"c":"mem. B","g":"CD1C","v":48},{"c":"mem. B","g":"CLDN5","v":0},{"c":"mem. B","g":"RGS5","v":0},{"c":"mem. B","g":"COL6A3","v":0},{"c":"mem. B","g":"CDH19","v":0},{"c":"mem. B","g":"CFTR","v":0},{"c":"mem. B","g":"REG1A","v":0},{"c":"mem. B","g":"GCG","v":0},{"c":"mem. B","g":"INS","v":0},{"c":"mem. B","g":"SST","v":0},{"c":"mem. B","g":"PPY","v":0},{"c":"mem. B","g":"CD3D","v":0},{"c":"mem. B","g":"CD4","v":0},{"c":"mem. B","g":"FOXP3","v":0},{"c":"mem. B","g":"TYMS","v":0},{"c":"mem. B","g":"CD8B","v":0},{"c":"mem. B","g":"KLRB1","v":0},{"c":"mem. B","g":"IFNG","v":0},{"c":"mem. B","g":"NCR1","v":0},{"c":"mem. B","g":"GZMB","v":0},{"c":"mem. B","g":"XCL1","v":0},{"c":"mem. B","g":"CD79A","v":85},{"c":"mem. B","g":"TCL1A","v":25},{"c":"mem. B","g":"CD80","v":90},{"c":"mem. B","g":"TNFRSF17","v":0},
{"c":"plasma","g":"CD34","v":0},{"c":"plasma","g":"PPBP","v":0},{"c":"plasma","g":"PTCRA","v":0},{"c":"plasma","g":"CD68","v":0},{"c":"plasma","g":"C1QB","v":0},{"c":"plasma","g":"CD14","v":8},{"c":"plasma","g":"FCGR3B","v":0},{"c":"plasma","g":"CD1C","v":0},{"c":"plasma","g":"CLDN5","v":0},{"c":"plasma","g":"RGS5","v":0},{"c":"plasma","g":"COL6A3","v":0},{"c":"plasma","g":"CDH19","v":0},{"c":"plasma","g":"CFTR","v":0},{"c":"plasma","g":"REG1A","v":0},{"c":"plasma","g":"GCG","v":0},{"c":"plasma","g":"INS","v":0},{"c":"plasma","g":"SST","v":0},{"c":"plasma","g":"PPY","v":0},{"c":"plasma","g":"CD3D","v":18},{"c":"plasma","g":"CD4","v":16},{"c":"plasma","g":"FOXP3","v":0},{"c":"plasma","g":"TYMS","v":8},{"c":"plasma","g":"CD8B","v":0},{"c":"plasma","g":"KLRB1","v":0},{"c":"plasma","g":"IFNG","v":0},{"c":"plasma","g":"NCR1","v":0},{"c":"plasma","g":"GZMB","v":0},{"c":"plasma","g":"XCL1","v":0},{"c":"plasma","g":"CD79A","v":85},{"c":"plasma","g":"TCL1A","v":0},{"c":"plasma","g":"CD80","v":45},{"c":"plasma","g":"TNFRSF17","v":92}],
"heat":[
{"a":"MKC","r":"MKC","v":0.05},{"a":"MKC","r":"pDC","v":0.08},{"a":"MKC","r":"panc MΦ","v":-0.02},{"a":"MKC","r":"cMono.","v":0.12},{"a":"MKC","r":"ncMono.","v":0.15},{"a":"MKC","r":"cDC","v":0.18},{"a":"MKC","r":"qui. stell.","v":-0.12},{"a":"MKC","r":"act. stell.","v":-0.08},{"a":"MKC","r":"endothel.","v":-0.05},{"a":"MKC","r":"ductal","v":-0.06},{"a":"MKC","r":"acinar","v":-0.07},{"a":"MKC","r":"alpha","v":-0.12},{"a":"MKC","r":"beta","v":-0.13},{"a":"MKC","r":"delta","v":-0.08},{"a":"MKC","r":"gamma","v":-0.1},{"a":"MKC","r":"naive CD4","v":0.04},{"a":"MKC","r":"act. CD4","v":0.05},{"a":"MKC","r":"reg. CD4","v":-0.04},{"a":"MKC","r":"naive CD8","v":0.01},{"a":"MKC","r":"mem. CD8","v":0.01},{"a":"MKC","r":"cyto. CD8","v":-0.1},{"a":"MKC","r":"cyto. NK","v":-0.08},{"a":"MKC","r":"adap. NK","v":0},{"a":"MKC","r":"mem. B","v":0.05},{"a":"MKC","r":"naive B","v":0},
{"a":"pDC","r":"MKC","v":0.15},{"a":"pDC","r":"pDC","v":0.65},{"a":"pDC","r":"panc MΦ","v":0.06},{"a":"pDC","r":"cMono.","v":-0.02},{"a":"pDC","r":"ncMono.","v":0.01},{"a":"pDC","r":"cDC","v":0.16},{"a":"pDC","r":"qui. stell.","v":0.04},{"a":"pDC","r":"act. stell.","v":0.03},{"a":"pDC","r":"endothel.","v":0.06},{"a":"pDC","r":"ductal","v":0.04},{"a":"pDC","r":"acinar","v":-0.03},{"a":"pDC","r":"alpha","v":-0.02},{"a":"pDC","r":"beta","v":-0.02},{"a":"pDC","r":"delta","v":0.01},{"a":"pDC","r":"gamma","v":0.03},{"a":"pDC","r":"naive CD4","v":-0.12},{"a":"pDC","r":"act. CD4","v":-0.1},{"a":"pDC","r":"reg. CD4","v":0.03},{"a":"pDC","r":"naive CD8","v":-0.13},{"a":"pDC","r":"mem. CD8","v":-0.11},{"a":"pDC","r":"cyto. CD8","v":-0.1},{"a":"pDC","r":"cyto. NK","v":-0.05},{"a":"pDC","r":"adap. NK","v":-0.1},{"a":"pDC","r":"mem. B","v":0.1},{"a":"pDC","r":"naive B","v":0.1},
{"a":"panc MΦ","r":"MKC","v":0.08},{"a":"panc MΦ","r":"pDC","v":0.02},{"a":"panc MΦ","r":"panc MΦ","v":0.5},{"a":"panc MΦ","r":"cMono.","v":0.45},{"a":"panc MΦ","r":"ncMono.","v":0.52},{"a":"panc MΦ","r":"cDC","v":0.28},{"a":"panc MΦ","r":"qui. stell.","v":-0.05},{"a":"panc MΦ","r":"act. stell.","v":-0.08},{"a":"panc MΦ","r":"endothel.","v":0.03},{"a":"panc MΦ","r":"ductal","v":-0.08},{"a":"panc MΦ","r":"acinar","v":-0.16},{"a":"panc MΦ","r":"alpha","v":-0.2},{"a":"panc MΦ","r":"beta","v":-0.25},{"a":"panc MΦ","r":"delta","v":-0.17},{"a":"panc MΦ","r":"gamma","v":-0.22},{"a":"panc MΦ","r":"naive CD4","v":-0.14},{"a":"panc MΦ","r":"act. CD4","v":-0.16},{"a":"panc MΦ","r":"reg. CD4","v":-0.09},{"a":"panc MΦ","r":"naive CD8","v":-0.14},{"a":"panc MΦ","r":"mem. CD8","v":-0.14},{"a":"panc MΦ","r":"cyto. CD8","v":-0.08},{"a":"panc MΦ","r":"cyto. NK","v":-0.04},{"a":"panc MΦ","r":"adap. NK","v":-0.07},{"a":"panc MΦ","r":"mem. B","v":0.04},{"a":"panc MΦ","r":"naive B","v":0.07},
{"a":"cMono.","r":"MKC","v":0.05},{"a":"cMono.","r":"pDC","v":0.02},{"a":"cMono.","r":"panc MΦ","v":0.12},{"a":"cMono.","r":"cMono.","v":0.7},{"a":"cMono.","r":"ncMono.","v":0.62},{"a":"cMono.","r":"cDC","v":0.28},{"a":"cMono.","r":"qui. stell.","v":-0.02},{"a":"cMono.","r":"act. stell.","v":-0.06},{"a":"cMono.","r":"endothel.","v":0.04},{"a":"cMono.","r":"ductal","v":0.03},{"a":"cMono.","r":"acinar","v":-0.08},{"a":"cMono.","r":"alpha","v":-0.1},{"a":"cMono.","r":"beta","v":-0.2},{"a":"cMono.","r":"delta","v":-0.12},{"a":"cMono.","r":"gamma","v":-0.13},{"a":"cMono.","r":"naive CD4","v":-0.23},{"a":"cMono.","r":"act. CD4","v":-0.3},{"a":"cMono.","r":"reg. CD4","v":-0.22},{"a":"cMono.","r":"naive CD8","v":-0.25},{"a":"cMono.","r":"mem. CD8","v":-0.24},{"a":"cMono.","r":"cyto. CD8","v":-0.25},{"a":"cMono.","r":"cyto. NK","v":-0.17},{"a":"cMono.","r":"adap. NK","v":-0.15},{"a":"cMono.","r":"mem. B","v":0.03},{"a":"cMono.","r":"naive B","v":0.1},
{"a":"ncMono.","r":"MKC","v":0.03},{"a":"ncMono.","r":"pDC","v":0.05},{"a":"ncMono.","r":"panc MΦ","v":0.12},{"a":"ncMono.","r":"cMono.","v":0.62},{"a":"ncMono.","r":"ncMono.","v":0.8},{"a":"ncMono.","r":"cDC","v":0.28},{"a":"ncMono.","r":"qui. stell.","v":-0.05},{"a":"ncMono.","r":"act. stell.","v":-0.08},{"a":"ncMono.","r":"endothel.","v":0.01},{"a":"ncMono.","r":"ductal","v":-0.02},{"a":"ncMono.","r":"acinar","v":-0.1},{"a":"ncMono.","r":"alpha","v":-0.14},{"a":"ncMono.","r":"beta","v":-0.24},{"a":"ncMono.","r":"delta","v":-0.15},{"a":"ncMono.","r":"gamma","v":-0.18},{"a":"ncMono.","r":"naive CD4","v":-0.2},{"a":"ncMono.","r":"act. CD4","v":-0.27},{"a":"ncMono.","r":"reg. CD4","v":-0.17},{"a":"ncMono.","r":"naive CD8","v":-0.2},{"a":"ncMono.","r":"mem. CD8","v":-0.2},{"a":"ncMono.","r":"cyto. CD8","v":-0.2},{"a":"ncMono.","r":"cyto. NK","v":-0.13},{"a":"ncMono.","r":"adap. NK","v":-0.13},{"a":"ncMono.","r":"mem. B","v":0.05},{"a":"ncMono.","r":"naive B","v":0.1},
{"a":"cDC","r":"MKC","v":0.03},{"a":"cDC","r":"pDC","v":0.2},{"a":"cDC","r":"panc MΦ","v":0.16},{"a":"cDC","r":"cMono.","v":0.35},{"a":"cDC","r":"ncMono.","v":0.42},{"a":"cDC","r":"cDC","v":0.5},{"a":"cDC","r":"qui. stell.","v":0.01},{"a":"cDC","r":"act. stell.","v":-0.02},{"a":"cDC","r":"endothel.","v":0.07},{"a":"cDC","r":"ductal","v":0.05},{"a":"cDC","r":"acinar","v":-0.05},{"a":"cDC","r":"alpha","v":-0.12},{"a":"cDC","r":"beta","v":-0.2},{"a":"cDC","r":"delta","v":-0.12},{"a":"cDC","r":"gamma","v":-0.15},{"a":"cDC","r":"naive CD4","v":-0.22},{"a":"cDC","r":"act. CD4","v":-0.27},{"a":"cDC","r":"reg. CD4","v":-0.17},{"a":"cDC","r":"naive CD8","v":-0.22},{"a":"cDC","r":"mem. CD8","v":-0.24},{"a":"cDC","r":"cyto. CD8","v":-0.22},{"a":"cDC","r":"cyto. NK","v":-0.15},{"a":"cDC","r":"adap. NK","v":-0.14},{"a":"cDC","r":"mem. B","v":0.12},{"a":"cDC","r":"naive B","v":0.18},
{"a":"qui. stell.","r":"MKC","v":0.12},{"a":"qui. stell.","r":"pDC","v":-0.08},{"a":"qui. stell.","r":"panc MΦ","v":0.05},{"a":"qui. stell.","r":"cMono.","v":-0.02},{"a":"qui. stell.","r":"ncMono.","v":0},{"a":"qui. stell.","r":"cDC","v":-0.07},{"a":"qui. stell.","r":"qui. stell.","v":0.5},{"a":"qui. stell.","r":"act. stell.","v":0.65},{"a":"qui. stell.","r":"endothel.","v":0.16},{"a":"qui. stell.","r":"ductal","v":0.03},{"a":"qui. stell.","r":"acinar","v":-0.1},{"a":"qui. stell.","r":"alpha","v":-0.02},{"a":"qui. stell.","r":"beta","v":-0.05},{"a":"qui. stell.","r":"delta","v":0.03},{"a":"qui. stell.","r":"gamma","v":0.01},{"a":"qui. stell.","r":"naive CD4","v":-0.05},{"a":"qui. stell.","r":"act. CD4","v":-0.06},{"a":"qui. stell.","r":"reg. CD4","v":-0.03},{"a":"qui. stell.","r":"naive CD8","v":-0.06},{"a":"qui. stell.","r":"mem. CD8","v":-0.06},{"a":"qui. stell.","r":"cyto. CD8","v":-0.04},{"a":"qui. stell.","r":"cyto. NK","v":-0.03},{"a":"qui. stell.","r":"adap. NK","v":-0.02},{"a":"qui. stell.","r":"mem. B","v":-0.06},{"a":"qui. stell.","r":"naive B","v":-0.06},
{"a":"act. stell.","r":"MKC","v":0.08},{"a":"act. stell.","r":"pDC","v":-0.08},{"a":"act. stell.","r":"panc MΦ","v":0.02},{"a":"act. stell.","r":"cMono.","v":0.02},{"a":"act. stell.","r":"ncMono.","v":0.03},{"a":"act. stell.","r":"cDC","v":-0.03},{"a":"act. stell.","r":"qui. stell.","v":0.45},{"a":"act. stell.","r":"act. stell.","v":0.72},{"a":"act. stell.","r":"endothel.","v":0.14},{"a":"act. stell.","r":"ductal","v":0.02},{"a":"act. stell.","r":"acinar","v":-0.09},{"a":"act. stell.","r":"alpha","v":-0.03},{"a":"act. stell.","r":"beta","v":-0.07},{"a":"act. stell.","r":"delta","v":0.03},{"a":"act. stell.","r":"gamma","v":0},{"a":"act. stell.","r":"naive CD4","v":-0.05},{"a":"act. stell.","r":"act. CD4","v":-0.06},{"a":"act. stell.","r":"reg. CD4","v":-0.04},{"a":"act. stell.","r":"naive CD8","v":-0.06},{"a":"act. stell.","r":"mem. CD8","v":-0.06},{"a":"act. stell.","r":"cyto. CD8","v":-0.05},{"a":"act. stell.","r":"cyto. NK","v":-0.04},{"a":"act. stell.","r":"adap. NK","v":-0.02},{"a":"act. stell.","r":"mem. B","v":-0.08},{"a":"act. stell.","r":"naive B","v":-0.07},
{"a":"endothel.","r":"MKC","v":0.12},{"a":"endothel.","r":"pDC","v":-0.03},{"a":"endothel.","r":"panc MΦ","v":0.04},{"a":"endothel.","r":"cMono.","v":0.01},{"a":"endothel.","r":"ncMono.","v":0.03},{"a":"endothel.","r":"cDC","v":-0.02},{"a":"endothel.","r":"qui. stell.","v":0.18},{"a":"endothel.","r":"act. stell.","v":0.14},{"a":"endothel.","r":"endothel.","v":0.8},{"a":"endothel.","r":"ductal","v":0},{"a":"endothel.","r":"acinar","v":-0.1},{"a":"endothel.","r":"alpha","v":-0.08},{"a":"endothel.","r":"beta","v":-0.1},{"a":"endothel.","r":"delta","v":-0.06},{"a":"endothel.","r":"gamma","v":-0.05},{"a":"endothel.","r":"naive CD4","v":-0.01},{"a":"endothel.","r":"act. CD4","v":-0.01},{"a":"endothel.","r":"reg. CD4","v":-0.02},{"a":"endothel.","r":"naive CD8","v":-0.03},{"a":"endothel.","r":"mem. CD8","v":-0.05},{"a":"endothel.","r":"cyto. CD8","v":-0.05},{"a":"endothel.","r":"cyto. NK","v":-0.04},{"a":"endothel.","r":"adap. NK","v":-0.03},{"a":"endothel.","r":"mem. B","v":0},{"a":"endothel.","r":"naive B","v":0.02},
{"a":"ductal","r":"MKC","v":0.08},{"a":"ductal","r":"pDC","v":-0.03},{"a":"ductal","r":"panc MΦ","v":0.05},{"a":"ductal","r":"cMono.","v":-0.02},{"a":"ductal","r":"ncMono.","v":-0.01},{"a":"ductal","r":"cDC","v":-0.05},{"a":"ductal","r":"qui. stell.","v":0.12},{"a":"ductal","r":"act. stell.","v":0.08},{"a":"ductal","r":"endothel.","v":0.1},{"a":"ductal","r":"ductal","v":0.8},{"a":"ductal","r":"acinar","v":-0.02},{"a":"ductal","r":"alpha","v":0.01},{"a":"ductal","r":"beta","v":-0.07},{"a":"ductal","r":"delta","v":-0.01},{"a":"ductal","r":"gamma","v":-0.01},{"a":"ductal","r":"naive CD4","v":-0.03},{"a":"ductal","r":"act. CD4","v":-0.04},{"a":"ductal","r":"reg. CD4","v":-0.02},{"a":"ductal","r":"naive CD8","v":-0.05},{"a":"ductal","r":"mem. CD8","v":-0.05},{"a":"ductal","r":"cyto. CD8","v":-0.04},{"a":"ductal","r":"cyto. NK","v":-0.04},{"a":"ductal","r":"adap. NK","v":-0.03},{"a":"ductal","r":"mem. B","v":-0.06},{"a":"ductal","r":"naive B","v":-0.06},
{"a":"acinar","r":"MKC","v":0},{"a":"acinar","r":"pDC","v":-0.03},{"a":"acinar","r":"panc MΦ","v":0.01},{"a":"acinar","r":"cMono.","v":-0.1},{"a":"acinar","r":"ncMono.","v":-0.13},{"a":"acinar","r":"cDC","v":-0.1},{"a":"acinar","r":"qui. stell.","v":0.03},{"a":"acinar","r":"act. stell.","v":0.02},{"a":"acinar","r":"endothel.","v":-0.01},{"a":"acinar","r":"ductal","v":0.18},{"a":"acinar","r":"acinar","v":0.8},{"a":"acinar","r":"alpha","v":0.03},{"a":"acinar","r":"beta","v":-0.01},{"a":"acinar","r":"delta","v":0.04},{"a":"acinar","r":"gamma","v":0.05},{"a":"acinar","r":"naive CD4","v":0.04},{"a":"acinar","r":"act. CD4","v":0.03},{"a":"acinar","r":"reg. CD4","v":0.03},{"a":"acinar","r":"naive CD8","v":0.01},{"a":"acinar","r":"mem. CD8","v":-0.05},{"a":"acinar","r":"cyto. CD8","v":-0.04},{"a":"acinar","r":"cyto. NK","v":-0.06},{"a":"acinar","r":"adap. NK","v":-0.07},{"a":"acinar","r":"mem. B","v":-0.07},{"a":"acinar","r":"naive B","v":-0.07},
{"a":"GCGʰⁱ alpha","r":"MKC","v":-0.02},{"a":"GCGʰⁱ alpha","r":"pDC","v":-0.06},{"a":"GCGʰⁱ alpha","r":"panc MΦ","v":-0.05},{"a":"GCGʰⁱ alpha","r":"cMono.","v":-0.13},{"a":"GCGʰⁱ alpha","r":"ncMono.","v":-0.18},{"a":"GCGʰⁱ alpha","r":"cDC","v":-0.15},{"a":"GCGʰⁱ alpha","r":"qui. stell.","v":0.02},{"a":"GCGʰⁱ alpha","r":"act. stell.","v":0.02},{"a":"GCGʰⁱ alpha","r":"endothel.","v":-0.01},{"a":"GCGʰⁱ alpha","r":"ductal","v":-0.01},{"a":"GCGʰⁱ alpha","r":"acinar","v":-0.06},{"a":"GCGʰⁱ alpha","r":"alpha","v":0.68},{"a":"GCGʰⁱ alpha","r":"beta","v":0.4},{"a":"GCGʰⁱ alpha","r":"delta","v":0.3},{"a":"GCGʰⁱ alpha","r":"gamma","v":0.38},{"a":"GCGʰⁱ alpha","r":"naive CD4","v":-0.11},{"a":"GCGʰⁱ alpha","r":"act. CD4","v":-0.16},{"a":"GCGʰⁱ alpha","r":"reg. CD4","v":-0.08},{"a":"GCGʰⁱ alpha","r":"naive CD8","v":-0.1},{"a":"GCGʰⁱ alpha","r":"mem. CD8","v":-0.06},{"a":"GCGʰⁱ alpha","r":"cyto. CD8","v":-0.06},{"a":"GCGʰⁱ alpha","r":"cyto. NK","v":-0.05},{"a":"GCGʰⁱ alpha","r":"adap. NK","v":-0.05},{"a":"GCGʰⁱ alpha","r":"mem. B","v":-0.13},{"a":"GCGʰⁱ alpha","r":"naive B","v":-0.09},
{"a":"GCGˡᵒ alpha","r":"MKC","v":-0.02},{"a":"GCGˡᵒ alpha","r":"pDC","v":-0.07},{"a":"GCGˡᵒ alpha","r":"panc MΦ","v":-0.05},{"a":"GCGˡᵒ alpha","r":"cMono.","v":-0.17},{"a":"GCGˡᵒ alpha","r":"ncMono.","v":-0.2},{"a":"GCGˡᵒ alpha","r":"cDC","v":-0.2},{"a":"GCGˡᵒ alpha","r":"qui. stell.","v":-0.01},{"a":"GCGˡᵒ alpha","r":"act. stell.","v":-0.03},{"a":"GCGˡᵒ alpha","r":"endothel.","v":-0.02},{"a":"GCGˡᵒ alpha","r":"ductal","v":-0.03},{"a":"GCGˡᵒ alpha","r":"acinar","v":-0.06},{"a":"GCGˡᵒ alpha","r":"alpha","v":0.7},{"a":"GCGˡᵒ alpha","r":"beta","v":0.48},{"a":"GCGˡᵒ alpha","r":"delta","v":0.22},{"a":"GCGˡᵒ alpha","r":"gamma","v":0.5},{"a":"GCGˡᵒ alpha","r":"naive CD4","v":-0.13},{"a":"GCGˡᵒ alpha","r":"act. CD4","v":-0.16},{"a":"GCGˡᵒ alpha","r":"reg. CD4","v":-0.08},{"a":"GCGˡᵒ alpha","r":"naive CD8","v":-0.1},{"a":"GCGˡᵒ alpha","r":"mem. CD8","v":-0.06},{"a":"GCGˡᵒ alpha","r":"cyto. CD8","v":-0.06},{"a":"GCGˡᵒ alpha","r":"cyto. NK","v":-0.04},{"a":"GCGˡᵒ alpha","r":"adap. NK","v":-0.04},{"a":"GCGˡᵒ alpha","r":"mem. B","v":-0.15},{"a":"GCGˡᵒ alpha","r":"naive B","v":-0.09},
{"a":"INSʰⁱ beta","r":"MKC","v":-0.02},{"a":"INSʰⁱ beta","r":"pDC","v":-0.07},{"a":"INSʰⁱ beta","r":"panc MΦ","v":-0.04},{"a":"INSʰⁱ beta","r":"cMono.","v":-0.12},{"a":"INSʰⁱ beta","r":"ncMono.","v":-0.17},{"a":"INSʰⁱ beta","r":"cDC","v":-0.14},{"a":"INSʰⁱ beta","r":"qui. stell.","v":0},{"a":"INSʰⁱ beta","r":"act. stell.","v":-0.03},{"a":"INSʰⁱ beta","r":"endothel.","v":-0.02},{"a":"INSʰⁱ beta","r":"ductal","v":-0.03},{"a":"INSʰⁱ beta","r":"acinar","v":-0.06},{"a":"INSʰⁱ beta","r":"alpha","v":0.32},{"a":"INSʰⁱ beta","r":"beta","v":0.74},{"a":"INSʰⁱ beta","r":"delta","v":0.38},{"a":"INSʰⁱ beta","r":"gamma","v":0.28},{"a":"INSʰⁱ beta","r":"naive CD4","v":-0.14},{"a":"INSʰⁱ beta","r":"act. CD4","v":-0.17},{"a":"INSʰⁱ beta","r":"reg. CD4","v":-0.08},{"a":"INSʰⁱ beta","r":"naive CD8","v":-0.11},{"a":"INSʰⁱ beta","r":"mem. CD8","v":-0.06},{"a":"INSʰⁱ beta","r":"cyto. CD8","v":-0.07},{"a":"INSʰⁱ beta","r":"cyto. NK","v":-0.04},{"a":"INSʰⁱ beta","r":"adap. NK","v":-0.04},{"a":"INSʰⁱ beta","r":"mem. B","v":-0.14},{"a":"INSʰⁱ beta","r":"naive B","v":-0.1},
{"a":"INSˡᵒ beta","r":"MKC","v":-0.02},{"a":"INSˡᵒ beta","r":"pDC","v":-0.08},{"a":"INSˡᵒ beta","r":"panc MΦ","v":-0.04},{"a":"INSˡᵒ beta","r":"cMono.","v":-0.15},{"a":"INSˡᵒ beta","r":"ncMono.","v":-0.18},{"a":"INSˡᵒ beta","r":"cDC","v":-0.15},{"a":"INSˡᵒ beta","r":"qui. stell.","v":-0.01},{"a":"INSˡᵒ beta","r":"act. stell.","v":-0.04},{"a":"INSˡᵒ beta","r":"endothel.","v":-0.03},{"a":"INSˡᵒ beta","r":"ductal","v":-0.03},{"a":"INSˡᵒ beta","r":"acinar","v":-0.07},{"a":"INSˡᵒ beta","r":"alpha","v":0.32},{"a":"INSˡᵒ beta","r":"beta","v":0.7},{"a":"INSˡᵒ beta","r":"delta","v":0.32},{"a":"INSˡᵒ beta","r":"gamma","v":0.42},{"a":"INSˡᵒ beta","r":"naive CD4","v":-0.13},{"a":"INSˡᵒ beta","r":"act. CD4","v":-0.16},{"a":"INSˡᵒ beta","r":"reg. CD4","v":-0.08},{"a":"INSˡᵒ beta","r":"naive CD8","v":-0.11},{"a":"INSˡᵒ beta","r":"mem. CD8","v":-0.06},{"a":"INSˡᵒ beta","r":"cyto. CD8","v":-0.06},{"a":"INSˡᵒ beta","r":"cyto. NK","v":-0.03},{"a":"INSˡᵒ beta","r":"adap. NK","v":0.01},{"a":"INSˡᵒ beta","r":"mem. B","v":-0.15},{"a":"INSˡᵒ beta","r":"naive B","v":-0.1},
{"a":"SSTʰⁱ delta","r":"MKC","v":-0.01},{"a":"SSTʰⁱ delta","r":"pDC","v":-0.07},{"a":"SSTʰⁱ delta","r":"panc MΦ","v":-0.04},{"a":"SSTʰⁱ delta","r":"cMono.","v":-0.12},{"a":"SSTʰⁱ delta","r":"ncMono.","v":-0.15},{"a":"SSTʰⁱ delta","r":"cDC","v":-0.13},{"a":"SSTʰⁱ delta","r":"qui. stell.","v":0},{"a":"SSTʰⁱ delta","r":"act. stell.","v":-0.03},{"a":"SSTʰⁱ delta","r":"endothel.","v":-0.02},{"a":"SSTʰⁱ delta","r":"ductal","v":-0.02},{"a":"SSTʰⁱ delta","r":"acinar","v":-0.06},{"a":"SSTʰⁱ delta","r":"alpha","v":0.25},{"a":"SSTʰⁱ delta","r":"beta","v":0.4},{"a":"SSTʰⁱ delta","r":"delta","v":0.74},{"a":"SSTʰⁱ delta","r":"gamma","v":0.45},{"a":"SSTʰⁱ delta","r":"naive CD4","v":-0.13},{"a":"SSTʰⁱ delta","r":"act. CD4","v":-0.16},{"a":"SSTʰⁱ delta","r":"reg. CD4","v":-0.08},{"a":"SSTʰⁱ delta","r":"naive CD8","v":-0.12},{"a":"SSTʰⁱ delta","r":"mem. CD8","v":-0.07},{"a":"SSTʰⁱ delta","r":"cyto. CD8","v":-0.07},{"a":"SSTʰⁱ delta","r":"cyto. NK","v":-0.05},{"a":"SSTʰⁱ delta","r":"adap. NK","v":-0.05},{"a":"SSTʰⁱ delta","r":"mem. B","v":-0.14},{"a":"SSTʰⁱ delta","r":"naive B","v":-0.1},
{"a":"SSTˡᵒ delta","r":"MKC","v":-0.02},{"a":"SSTˡᵒ delta","r":"pDC","v":-0.07},{"a":"SSTˡᵒ delta","r":"panc MΦ","v":-0.02},{"a":"SSTˡᵒ delta","r":"cMono.","v":-0.1},{"a":"SSTˡᵒ delta","r":"ncMono.","v":-0.1},{"a":"SSTˡᵒ delta","r":"cDC","v":-0.13},{"a":"SSTˡᵒ delta","r":"qui. stell.","v":0.07},{"a":"SSTˡᵒ delta","r":"act. stell.","v":0.04},{"a":"SSTˡᵒ delta","r":"endothel.","v":0},{"a":"SSTˡᵒ delta","r":"ductal","v":0.04},{"a":"SSTˡᵒ delta","r":"acinar","v":-0.05},{"a":"SSTˡᵒ delta","r":"alpha","v":0.25},{"a":"SSTˡᵒ delta","r":"beta","v":0.32},{"a":"SSTˡᵒ delta","r":"delta","v":0.62},{"a":"SSTˡᵒ delta","r":"gamma","v":0.42},{"a":"SSTˡᵒ delta","r":"naive CD4","v":-0.16},{"a":"SSTˡᵒ delta","r":"act. CD4","v":-0.2},{"a":"SSTˡᵒ delta","r":"reg. CD4","v":-0.08},{"a":"SSTˡᵒ delta","r":"naive CD8","v":-0.18},{"a":"SSTˡᵒ delta","r":"mem. CD8","v":-0.09},{"a":"SSTˡᵒ delta","r":"cyto. CD8","v":-0.07},{"a":"SSTˡᵒ delta","r":"cyto. NK","v":-0.05},{"a":"SSTˡᵒ delta","r":"adap. NK","v":-0.04},{"a":"SSTˡᵒ delta","r":"mem. B","v":-0.13},{"a":"SSTˡᵒ delta","r":"naive B","v":-0.09},
{"a":"gamma","r":"MKC","v":-0.02},{"a":"gamma","r":"pDC","v":-0.06},{"a":"gamma","r":"panc MΦ","v":-0.02},{"a":"gamma","r":"cMono.","v":-0.08},{"a":"gamma","r":"ncMono.","v":-0.1},{"a":"gamma","r":"cDC","v":-0.15},{"a":"gamma","r":"qui. stell.","v":-0.02},{"a":"gamma","r":"act. stell.","v":-0.04},{"a":"gamma","r":"endothel.","v":-0.03},{"a":"gamma","r":"ductal","v":0},{"a":"gamma","r":"acinar","v":-0.04},{"a":"gamma","r":"alpha","v":0.32},{"a":"gamma","r":"beta","v":0.28},{"a":"gamma","r":"delta","v":0.3},{"a":"gamma","r":"gamma","v":0.6},{"a":"gamma","r":"naive CD4","v":-0.16},{"a":"gamma","r":"act. CD4","v":-0.2},{"a":"gamma","r":"reg. CD4","v":-0.08},{"a":"gamma","r":"naive CD8","v":-0.2},{"a":"gamma","r":"mem. CD8","v":-0.07},{"a":"gamma","r":"cyto. CD8","v":-0.07},{"a":"gamma","r":"cyto. NK","v":-0.02},{"a":"gamma","r":"adap. NK","v":-0.03},{"a":"gamma","r":"mem. B","v":-0.14},{"a":"gamma","r":"naive B","v":-0.08},
{"a":"naive T","r":"MKC","v":-0.02},{"a":"naive T","r":"pDC","v":-0.04},{"a":"naive T","r":"panc MΦ","v":-0.07},{"a":"naive T","r":"cMono.","v":-0.23},{"a":"naive T","r":"ncMono.","v":-0.27},{"a":"naive T","r":"cDC","v":-0.11},{"a":"naive T","r":"qui. stell.","v":0},{"a":"naive T","r":"act. stell.","v":0.04},{"a":"naive T","r":"endothel.","v":-0.03},{"a":"naive T","r":"ductal","v":-0.08},{"a":"naive T","r":"acinar","v":-0.07},{"a":"naive T","r":"alpha","v":-0.1},{"a":"naive T","r":"beta","v":-0.09},{"a":"naive T","r":"delta","v":-0.08},{"a":"naive T","r":"gamma","v":-0.09},{"a":"naive T","r":"naive CD4","v":0.65},{"a":"naive T","r":"act. CD4","v":0.68},{"a":"naive T","r":"reg. CD4","v":0.32},{"a":"naive T","r":"naive CD8","v":0.6},{"a":"naive T","r":"mem. CD8","v":0.14},{"a":"naive T","r":"cyto. CD8","v":0.05},{"a":"naive T","r":"cyto. NK","v":-0.08},{"a":"naive T","r":"adap. NK","v":-0.02},{"a":"naive T","r":"mem. B","v":-0.04},{"a":"naive T","r":"naive B","v":-0.09},
{"a":"act. CD4","r":"MKC","v":-0.03},{"a":"act. CD4","r":"pDC","v":-0.04},{"a":"act. CD4","r":"panc MΦ","v":-0.06},{"a":"act. CD4","r":"cMono.","v":-0.25},{"a":"act. CD4","r":"ncMono.","v":-0.26},{"a":"act. CD4","r":"cDC","v":-0.13},{"a":"act. CD4","r":"qui. stell.","v":-0.02},{"a":"act. CD4","r":"act. stell.","v":0.03},{"a":"act. CD4","r":"endothel.","v":-0.03},{"a":"act. CD4","r":"ductal","v":-0.06},{"a":"act. CD4","r":"acinar","v":-0.07},{"a":"act. CD4","r":"alpha","v":-0.12},{"a":"act. CD4","r":"beta","v":-0.1},{"a":"act. CD4","r":"delta","v":-0.08},{"a":"act. CD4","r":"gamma","v":-0.09},{"a":"act. CD4","r":"naive CD4","v":0.58},{"a":"act. CD4","r":"act. CD4","v":0.76},{"a":"act. CD4","r":"reg. CD4","v":0.48},{"a":"act. CD4","r":"naive CD8","v":0.46},{"a":"act. CD4","r":"mem. CD8","v":0.26},{"a":"act. CD4","r":"cyto. CD8","v":0.13},{"a":"act. CD4","r":"cyto. NK","v":-0.02},{"a":"act. CD4","r":"adap. NK","v":0.04},{"a":"act. CD4","r":"mem. B","v":-0.08},{"a":"act. CD4","r":"naive B","v":-0.1},
{"a":"reg. CD4","r":"MKC","v":-0.03},{"a":"reg. CD4","r":"pDC","v":0.02},{"a":"reg. CD4","r":"panc MΦ","v":-0.04},{"a":"reg. CD4","r":"cMono.","v":-0.18},{"a":"reg. CD4","r":"ncMono.","v":-0.22},{"a":"reg. CD4","r":"cDC","v":-0.03},{"a":"reg. CD4","r":"qui. stell.","v":-0.06},{"a":"reg. CD4","r":"act. stell.","v":-0.04},{"a":"reg. CD4","r":"endothel.","v":-0.05},{"a":"reg. CD4","r":"ductal","v":-0.08},{"a":"reg. CD4","r":"acinar","v":-0.06},{"a":"reg. CD4","r":"alpha","v":-0.17},{"a":"reg. CD4","r":"beta","v":-0.13},{"a":"reg. CD4","r":"delta","v":-0.09},{"a":"reg. CD4","r":"gamma","v":-0.14},{"a":"reg. CD4","r":"naive CD4","v":0.48},{"a":"reg. CD4","r":"act. CD4","v":0.65},{"a":"reg. CD4","r":"reg. CD4","v":0.55},{"a":"reg. CD4","r":"naive CD8","v":0.34},{"a":"reg. CD4","r":"mem. CD8","v":0.14},{"a":"reg. CD4","r":"cyto. CD8","v":0.05},{"a":"reg. CD4","r":"cyto. NK","v":-0.07},{"a":"reg. CD4","r":"adap. NK","v":0.01},{"a":"reg. CD4","r":"mem. B","v":0.04},{"a":"reg. CD4","r":"naive B","v":-0.02},
{"a":"mem. CD8","r":"MKC","v":-0.05},{"a":"mem. CD8","r":"pDC","v":-0.01},{"a":"mem. CD8","r":"panc MΦ","v":-0.07},{"a":"mem. CD8","r":"cMono.","v":-0.24},{"a":"mem. CD8","r":"ncMono.","v":-0.22},{"a":"mem. CD8","r":"cDC","v":-0.12},{"a":"mem. CD8","r":"qui. stell.","v":-0.04},{"a":"mem. CD8","r":"act. stell.","v":0.03},{"a":"mem. CD8","r":"endothel.","v":-0.04},{"a":"mem. CD8","r":"ductal","v":-0.07},{"a":"mem. CD8","r":"acinar","v":-0.05},{"a":"mem. CD8","r":"alpha","v":-0.09},{"a":"mem. CD8","r":"beta","v":-0.06},{"a":"mem. CD8","r":"delta","v":-0.05},{"a":"mem. CD8","r":"gamma","v":-0.04},{"a":"mem. CD8","r":"naive CD4","v":0.2},{"a":"mem. CD8","r":"act. CD4","v":0.38},{"a":"mem. CD8","r":"reg. CD4","v":0.22},{"a":"mem. CD8","r":"naive CD8","v":0.26},{"a":"mem. CD8","r":"mem. CD8","v":0.68},{"a":"mem. CD8","r":"cyto. CD8","v":0.45},{"a":"mem. CD8","r":"cyto. NK","v":0.25},{"a":"mem. CD8","r":"adap. NK","v":0.22},{"a":"mem. CD8","r":"mem. B","v":-0.07},{"a":"mem. CD8","r":"naive B","v":-0.11},
{"a":"cyto. CD8","r":"MKC","v":-0.03},{"a":"cyto. CD8","r":"pDC","v":-0.01},{"a":"cyto. CD8","r":"panc MΦ","v":-0.06},{"a":"cyto. CD8","r":"cMono.","v":-0.25},{"a":"cyto. CD8","r":"ncMono.","v":-0.21},{"a":"cyto. CD8","r":"cDC","v":-0.09},{"a":"cyto. CD8","r":"qui. stell.","v":-0.04},{"a":"cyto. CD8","r":"act. stell.","v":-0.03},{"a":"cyto. CD8","r":"endothel.","v":-0.04},{"a":"cyto. CD8","r":"ductal","v":-0.07},{"a":"cyto. CD8","r":"acinar","v":-0.06},{"a":"cyto. CD8","r":"alpha","v":-0.14},{"a":"cyto. CD8","r":"beta","v":-0.09},{"a":"cyto. CD8","r":"delta","v":-0.08},{"a":"cyto. CD8","r":"gamma","v":-0.1},{"a":"cyto. CD8","r":"naive CD4","v":0.16},{"a":"cyto. CD8","r":"act. CD4","v":0.3},{"a":"cyto. CD8","r":"reg. CD4","v":0.16},{"a":"cyto. CD8","r":"naive CD8","v":0.26},{"a":"cyto. CD8","r":"mem. CD8","v":0.38},{"a":"cyto. CD8","r":"cyto. CD8","v":0.76},{"a":"cyto. CD8","r":"cyto. NK","v":0.52},{"a":"cyto. CD8","r":"adap. NK","v":0.28},{"a":"cyto. CD8","r":"mem. B","v":-0.06},{"a":"cyto. CD8","r":"naive B","v":-0.11},
{"a":"panc. CD8","r":"MKC","v":-0.02},{"a":"panc. CD8","r":"pDC","v":0.04},{"a":"panc. CD8","r":"panc MΦ","v":-0.03},{"a":"panc. CD8","r":"cMono.","v":-0.07},{"a":"panc. CD8","r":"ncMono.","v":-0.09},{"a":"panc. CD8","r":"cDC","v":0.03},{"a":"panc. CD8","r":"qui. stell.","v":-0.13},{"a":"panc. CD8","r":"act. stell.","v":-0.1},{"a":"panc. CD8","r":"endothel.","v":-0.03},{"a":"panc. CD8","r":"ductal","v":-0.1},{"a":"panc. CD8","r":"acinar","v":-0.13},{"a":"panc. CD8","r":"alpha","v":-0.24},{"a":"panc. CD8","r":"beta","v":-0.15},{"a":"panc. CD8","r":"delta","v":-0.2},{"a":"panc. CD8","r":"gamma","v":-0.22},{"a":"panc. CD8","r":"naive CD4","v":0.08},{"a":"panc. CD8","r":"act. CD4","v":0.2},{"a":"panc. CD8","r":"reg. CD4","v":0.14},{"a":"panc. CD8","r":"naive CD8","v":0.16},{"a":"panc. CD8","r":"mem. CD8","v":0.42},{"a":"panc. CD8","r":"cyto. CD8","v":0.6},{"a":"panc. CD8","r":"cyto. NK","v":0.36},{"a":"panc. CD8","r":"adap. NK","v":0.26},{"a":"panc. CD8","r":"mem. B","v":-0.06},{"a":"panc. CD8","r":"naive B","v":-0.09},
{"a":"cyto. NK","r":"MKC","v":-0.02},{"a":"cyto. NK","r":"pDC","v":0.01},{"a":"cyto. NK","r":"panc MΦ","v":-0.05},{"a":"cyto. NK","r":"cMono.","v":-0.14},{"a":"cyto. NK","r":"ncMono.","v":-0.08},{"a":"cyto. NK","r":"cDC","v":-0.07},{"a":"cyto. NK","r":"qui. stell.","v":-0.04},{"a":"cyto. NK","r":"act. stell.","v":-0.03},{"a":"cyto. NK","r":"endothel.","v":-0.02},{"a":"cyto. NK","r":"ductal","v":-0.08},{"a":"cyto. NK","r":"acinar","v":-0.06},{"a":"cyto. NK","r":"alpha","v":-0.12},{"a":"cyto. NK","r":"beta","v":-0.09},{"a":"cyto. NK","r":"delta","v":-0.09},{"a":"cyto. NK","r":"gamma","v":-0.1},{"a":"cyto. NK","r":"naive CD4","v":0.01},{"a":"cyto. NK","r":"act. CD4","v":0.06},{"a":"cyto. NK","r":"reg. CD4","v":0.03},{"a":"cyto. NK","r":"naive CD8","v":0.05},{"a":"cyto. NK","r":"mem. CD8","v":0.3},{"a":"cyto. NK","r":"cyto. CD8","v":0.68},{"a":"cyto. NK","r":"cyto. NK","v":0.8},{"a":"cyto. NK","r":"adap. NK","v":0.55},{"a":"cyto. NK","r":"mem. B","v":-0.07},{"a":"cyto. NK","r":"naive B","v":-0.08},
{"a":"adap. NK","r":"MKC","v":-0.03},{"a":"adap. NK","r":"pDC","v":0.02},{"a":"adap. NK","r":"panc MΦ","v":-0.06},{"a":"adap. NK","r":"cMono.","v":-0.16},{"a":"adap. NK","r":"ncMono.","v":-0.08},{"a":"adap. NK","r":"cDC","v":-0.09},{"a":"adap. NK","r":"qui. stell.","v":-0.04},{"a":"adap. NK","r":"act. stell.","v":-0.02},{"a":"adap. NK","r":"endothel.","v":0.01},{"a":"adap. NK","r":"ductal","v":-0.07},{"a":"adap. NK","r":"acinar","v":-0.06},{"a":"adap. NK","r":"alpha","v":-0.1},{"a":"adap. NK","r":"beta","v":-0.09},{"a":"adap. NK","r":"delta","v":-0.08},{"a":"adap. NK","r":"gamma","v":-0.1},{"a":"adap. NK","r":"naive CD4","v":0.01},{"a":"adap. NK","r":"act. CD4","v":0.1},{"a":"adap. NK","r":"reg. CD4","v":0.08},{"a":"adap. NK","r":"naive CD8","v":0.03},{"a":"adap. NK","r":"mem. CD8","v":0.3},{"a":"adap. NK","r":"cyto. CD8","v":0.52},{"a":"adap. NK","r":"cyto. NK","v":0.72},{"a":"adap. NK","r":"adap. NK","v":0.7},{"a":"adap. NK","r":"mem. B","v":-0.06},{"a":"adap. NK","r":"naive B","v":-0.08},
{"a":"mem. B","r":"MKC","v":0.01},{"a":"mem. B","r":"pDC","v":0.17},{"a":"mem. B","r":"panc MΦ","v":0.01},{"a":"mem. B","r":"cMono.","v":0.02},{"a":"mem. B","r":"ncMono.","v":0.09},{"a":"mem. B","r":"cDC","v":0.14},{"a":"mem. B","r":"qui. stell.","v":-0.01},{"a":"mem. B","r":"act. stell.","v":-0.03},{"a":"mem. B","r":"endothel.","v":-0.03},{"a":"mem. B","r":"ductal","v":-0.06},{"a":"mem. B","r":"acinar","v":-0.08},{"a":"mem. B","r":"alpha","v":-0.14},{"a":"mem. B","r":"beta","v":-0.16},{"a":"mem. B","r":"delta","v":-0.11},{"a":"mem. B","r":"gamma","v":-0.1},{"a":"mem. B","r":"naive CD4","v":-0.12},{"a":"mem. B","r":"act. CD4","v":-0.11},{"a":"mem. B","r":"reg. CD4","v":-0.02},{"a":"mem. B","r":"naive CD8","v":-0.09},{"a":"mem. B","r":"mem. CD8","v":-0.15},{"a":"mem. B","r":"cyto. CD8","v":-0.18},{"a":"mem. B","r":"cyto. NK","v":-0.16},{"a":"mem. B","r":"adap. NK","v":-0.12},{"a":"mem. B","r":"mem. B","v":0.8},{"a":"mem. B","r":"naive B","v":0.7},
{"a":"naive B","r":"MKC","v":0},{"a":"naive B","r":"pDC","v":0.15},{"a":"naive B","r":"panc MΦ","v":-0.01},{"a":"naive B","r":"cMono.","v":0.03},{"a":"naive B","r":"ncMono.","v":0.1},{"a":"naive B","r":"cDC","v":0.17},{"a":"naive B","r":"qui. stell.","v":-0.01},{"a":"naive B","r":"act. stell.","v":-0.03},{"a":"naive B","r":"endothel.","v":-0.04},{"a":"naive B","r":"ductal","v":-0.07},{"a":"naive B","r":"acinar","v":-0.1},{"a":"naive B","r":"alpha","v":-0.14},{"a":"naive B","r":"beta","v":-0.18},{"a":"naive B","r":"delta","v":-0.11},{"a":"naive B","r":"gamma","v":-0.12},{"a":"naive B","r":"naive CD4","v":-0.11},{"a":"naive B","r":"act. CD4","v":-0.11},{"a":"naive B","r":"reg. CD4","v":-0.03},{"a":"naive B","r":"naive CD8","v":-0.1},{"a":"naive B","r":"mem. CD8","v":-0.15},{"a":"naive B","r":"cyto. CD8","v":-0.22},{"a":"naive B","r":"cyto. NK","v":-0.16},{"a":"naive B","r":"adap. NK","v":-0.11},{"a":"naive B","r":"mem. B","v":0.75},{"a":"naive B","r":"naive B","v":0.75}]},
"layer":[
{"data":{"name":"dots"},"mark":{"type":"point","filled":true,"stroke":"#111","strokeWidth":0.8,"opacity":1},
"encoding":{"x":{"field":"g","type":"nominal","scale":{"type":"point","padding":0,"range":[12,383],"domain":["CD34","PPBP","PTCRA","CD68","C1QB","CD14","FCGR3B","CD1C","CLDN5","RGS5","COL6A3","CDH19","CFTR","REG1A","GCG","INS","SST","PPY","CD3D","CD4","FOXP3","TYMS","CD8B","KLRB1","IFNG","NCR1","GZMB","XCL1","CD79A","TCL1A","CD80","TNFRSF17"]},"axis":{"orient":"bottom","offset":-98,"labelAngle":270,"labelFontSize":13.5,"tickSize":5,"labelPadding":4}},
"y":{"field":"c","type":"nominal","scale":{"type":"point","padding":0,"range":[581.3,940.3],"domain":["HSC","MKC","pDC","panc. MΦ","cMono.","ncMono.","cDC","endothel.","qui. stell.","act. stell.","schwann","ductal","acinar","alpha","beta","delta","gamma","naive CD4","act. CD4","reg. CD4","γδ T","naive CD8","mem. CD8","cyto. CD8","cyto. NK","adap. NK","naive B","mem. B","plasma"]},"axis":{"orient":"right","offset":-597,"labelFontSize":14,"tickSize":5,"labelPadding":2}},
"size":{"field":"v","type":"quantitative","legend":null,"scale":{"type":"pow","exponent":2,"domain":[0,100],"range":[1,110]}},
"color":{"field":"c","type":"nominal","legend":null,"scale":{"domain":["HSC","MKC","pDC","panc. MΦ","cMono.","ncMono.","cDC","endothel.","qui. stell.","act. stell.","schwann","ductal","acinar","alpha","beta","delta","gamma","naive CD4","act. CD4","reg. CD4","γδ T","naive CD8","mem. CD8","cyto. CD8","cyto. NK","adap. NK","naive B","mem. B","plasma"],"range":["#DC143C","#FF0000","#FF00FF","#FFB6C1","#8B0000","#CD5C6C","#FA8072","#A0522D","#FAD0A0","#FF8C00","#FFD700","#DAA520","#008080","#647D3A","#2FA558","#006400","#00FF00","#9BC8E0","#2F80BD","#00BFFF","#000080","#A0A0DF","#483D8B","#5050A0","#C3A8D3","#9460B8","#DDA0DD","#A9559B","#8B008B"]}}}},
{"data":{"name":"heat"},"mark":{"type":"rect","stroke":"white","strokeWidth":1},
"encoding":{"x":{"field":"r","type":"nominal","scale":{"type":"band","padding":0,"range":[539,879],"domain":["MKC","pDC","panc MΦ","cMono.","ncMono.","cDC","qui. stell.","act. stell.","endothel.","ductal","acinar","alpha","beta","delta","gamma","naive CD4","act. CD4","reg. CD4","naive CD8","mem. CD8","cyto. CD8","cyto. NK","adap. NK","mem. B","naive B"]},"axis":{"orient":"bottom","offset":-98,"labelAngle":270,"labelFontSize":14,"tickSize":5,"labelPadding":3}},
"y":{"field":"a","type":"nominal","scale":{"type":"band","padding":0,"range":[570,952],"domain":["MKC","pDC","panc MΦ","cMono.","ncMono.","cDC","qui. stell.","act. stell.","endothel.","ductal","acinar","GCGʰⁱ alpha","GCGˡᵒ alpha","INSʰⁱ beta","INSˡᵒ beta","SSTʰⁱ delta","SSTˡᵒ delta","gamma","naive T","act. CD4","reg. CD4","mem. CD8","cyto. CD8","panc. CD8","cyto. NK","adap. NK","mem. B","naive B"]},"axis":{"orient":"right","offset":-111,"labelFontSize":14,"tickSize":4,"labelPadding":2}},
"color":{"field":"v","type":"quantitative","scale":{"domain":[-0.4,-0.2,0,0.2,0.4,0.6,0.8],"range":["#6aaed6","#c2dcec","#f7f7f7","#fbd0b9","#ef9574","#c53a3a","#67001f"]},"legend":{"orient":"none","legendX":825,"legendY":535,"direction":"horizontal","gradientLength":55,"gradientThickness":11,"title":null,"values":[-0.4,0.8],"gradientStrokeColor":"#111","gradientStrokeWidth":1,"labelFontSize":14,"labelColor":"#111","labelAlign":"center"}}}},
{"layer":[
{"data":{"values":[{"cluster":"naive B","x":306,"y":93,"y2":100},{"cluster":"naive B","x":310,"y":86,"y2":103},{"cluster":"naive B","x":315,"y":85,"y2":107},{"cluster":"naive B","x":320,"y":87,"y2":110},{"cluster":"naive B","x":325,"y":88,"y2":113},{"cluster":"naive B","x":330,"y":89,"y2":116},{"cluster":"naive B","x":335,"y":92,"y2":110},{"cluster":"naive B","x":338,"y":94,"y2":104},{"cluster":"naive B","x":340.5,"y":97,"y2":99},
{"cluster":"memory B","x":295.5,"y":113,"y2":118},{"cluster":"memory B","x":298,"y":108,"y2":125},{"cluster":"memory B","x":302,"y":103,"y2":128},{"cluster":"memory B","x":306,"y":100,"y2":130},{"cluster":"memory B","x":310,"y":100,"y2":130},{"cluster":"memory B","x":314,"y":101,"y2":131},{"cluster":"memory B","x":318,"y":105,"y2":129},{"cluster":"memory B","x":322,"y":110,"y2":125},{"cluster":"memory B","x":325,"y":113,"y2":120},{"cluster":"memory B","x":327,"y":115,"y2":117},
{"cluster":"plasma","x":257,"y":168,"y2":171},{"cluster":"plasma","x":260,"y":167,"y2":171},{"cluster":"plasma","x":263,"y":165,"y2":170},
{"cluster":"megakaryocyte","x":344,"y":177,"y2":179},{"cluster":"megakaryocyte","x":347,"y":173,"y2":177},{"cluster":"megakaryocyte","x":351,"y":171,"y2":175},{"cluster":"megakaryocyte","x":355,"y":167,"y2":171},
{"cluster":"alpha","x":307,"y":242,"y2":248},{"cluster":"alpha","x":310,"y":237,"y2":252},{"cluster":"alpha","x":315,"y":232,"y2":255},{"cluster":"alpha","x":320,"y":229,"y2":257},{"cluster":"alpha","x":325,"y":228,"y2":259},{"cluster":"alpha","x":330,"y":229,"y2":261},{"cluster":"alpha","x":335,"y":231,"y2":263},{"cluster":"alpha","x":340,"y":235,"y2":264},{"cluster":"alpha","x":344,"y":240,"y2":264},{"cluster":"alpha","x":347,"y":248,"y2":260},
{"cluster":"beta","x":351,"y":351,"y2":354},{"cluster":"beta","x":354,"y":343,"y2":358},{"cluster":"beta","x":358,"y":338,"y2":361},{"cluster":"beta","x":362,"y":333,"y2":364},{"cluster":"beta","x":366,"y":330,"y2":366},{"cluster":"beta","x":371,"y":329,"y2":368},{"cluster":"beta","x":376,"y":329,"y2":366},{"cluster":"beta","x":381,"y":330,"y2":362},{"cluster":"beta","x":386,"y":332,"y2":357},{"cluster":"beta","x":391,"y":336,"y2":351},{"cluster":"beta","x":395,"y":342,"y2":346},
{"cluster":"gamma","x":323,"y":303,"y2":307},{"cluster":"gamma","x":325,"y":298,"y2":307},{"cluster":"gamma","x":327,"y":291,"y2":307},{"cluster":"gamma","x":329,"y":292,"y2":307},{"cluster":"gamma","x":331,"y":296,"y2":307},{"cluster":"gamma","x":333,"y":301,"y2":306},
{"cluster":"delta","x":320.5,"y":315,"y2":319},{"cluster":"delta","x":323,"y":311,"y2":322},{"cluster":"delta","x":327,"y":309,"y2":323},{"cluster":"delta","x":331,"y":310,"y2":323},{"cluster":"delta","x":334,"y":314,"y2":323},
{"cluster":"HSC","x":294,"y":312,"y2":315},{"cluster":"HSC","x":296,"y":311,"y2":316},{"cluster":"HSC","x":299,"y":312,"y2":314},
{"cluster":"γδ T","x":291,"y":288,"y2":290},{"cluster":"γδ T","x":296,"y":290,"y2":293},{"cluster":"γδ T","x":303,"y":293,"y2":296},
{"cluster":"plasmacytoid dendritic","x":347,"y":466,"y2":470},{"cluster":"plasmacytoid dendritic","x":351,"y":465,"y2":471},{"cluster":"plasmacytoid dendritic","x":354,"y":464,"y2":471},{"cluster":"plasmacytoid dendritic","x":357,"y":465,"y2":469},
{"cluster":"non-classical monocyte","x":470,"y":80,"y2":95},{"cluster":"non-classical monocyte","x":473,"y":77,"y2":105},{"cluster":"non-classical monocyte","x":478,"y":76,"y2":112},{"cluster":"non-classical monocyte","x":483,"y":77,"y2":117},{"cluster":"non-classical monocyte","x":488,"y":79,"y2":116},{"cluster":"non-classical monocyte","x":493,"y":82,"y2":113},{"cluster":"non-classical monocyte","x":498,"y":85,"y2":110},{"cluster":"non-classical monocyte","x":503,"y":89,"y2":105},{"cluster":"non-classical monocyte","x":507,"y":93,"y2":100},
{"cluster":"classical monocyte","x":493,"y":115,"y2":122},{"cluster":"classical monocyte","x":497,"y":110,"y2":130},{"cluster":"classical monocyte","x":501,"y":106,"y2":137},{"cluster":"classical monocyte","x":505,"y":103,"y2":142},{"cluster":"classical monocyte","x":510,"y":100,"y2":145},{"cluster":"classical monocyte","x":515,"y":101,"y2":148},{"cluster":"classical monocyte","x":520,"y":102,"y2":150},{"cluster":"classical monocyte","x":525,"y":104,"y2":151},{"cluster":"classical monocyte","x":530,"y":105,"y2":152},{"cluster":"classical monocyte","x":535,"y":108,"y2":152},{"cluster":"classical monocyte","x":540,"y":112,"y2":153},{"cluster":"classical monocyte","x":545,"y":118,"y2":153},{"cluster":"classical monocyte","x":549,"y":122,"y2":150},{"cluster":"classical monocyte","x":552,"y":128,"y2":143},{"cluster":"classical monocyte","x":553,"y":131,"y2":138},
{"cluster":"conventional dendritic","x":457,"y":148,"y2":153},{"cluster":"conventional dendritic","x":461,"y":145,"y2":155},{"cluster":"conventional dendritic","x":466,"y":143,"y2":155},{"cluster":"conventional dendritic","x":471,"y":143,"y2":154},{"cluster":"conventional dendritic","x":476,"y":143,"y2":153},{"cluster":"conventional dendritic","x":481,"y":141,"y2":150},{"cluster":"conventional dendritic","x":486,"y":142,"y2":148},{"cluster":"conventional dendritic","x":490,"y":143,"y2":146},
{"cluster":"pancreatic macrophage","x":468,"y":118,"y2":120},{"cluster":"pancreatic macrophage","x":471,"y":117,"y2":121},{"cluster":"pancreatic macrophage","x":473,"y":117,"y2":119},
{"cluster":"quiescent stellate","x":603,"y":210,"y2":216},{"cluster":"quiescent stellate","x":607,"y":205,"y2":211},{"cluster":"quiescent stellate","x":612,"y":200,"y2":204},
{"cluster":"activated stellate","x":593,"y":220,"y2":226},{"cluster":"activated stellate","x":596,"y":217,"y2":228},{"cluster":"activated stellate","x":600,"y":213,"y2":228},{"cluster":"activated stellate","x":604,"y":211,"y2":228},{"cluster":"activated stellate","x":607,"y":215,"y2":228},
{"cluster":"endothelial","x":649,"y":227,"y2":229},{"cluster":"endothelial","x":656,"y":233,"y2":236},{"cluster":"endothelial","x":664,"y":240,"y2":242},
{"cluster":"schwann","x":613,"y":243,"y2":244},{"cluster":"schwann","x":615,"y":244,"y2":247},{"cluster":"schwann","x":616,"y":246,"y2":247},
{"cluster":"acinar","x":412,"y":226,"y2":231},{"cluster":"acinar","x":415,"y":223,"y2":233},{"cluster":"acinar","x":420,"y":222,"y2":233},{"cluster":"acinar","x":425,"y":224,"y2":236},{"cluster":"acinar","x":429,"y":228,"y2":237},{"cluster":"acinar","x":431,"y":232,"y2":237},
{"cluster":"ductal","x":440,"y":256,"y2":262},{"cluster":"ductal","x":443,"y":252,"y2":265},{"cluster":"ductal","x":448,"y":251,"y2":266},{"cluster":"ductal","x":453,"y":251,"y2":267},{"cluster":"ductal","x":457,"y":252,"y2":265},{"cluster":"ductal","x":460,"y":255,"y2":261},
{"cluster":"naive CD8 T","x":435,"y":387,"y2":391},{"cluster":"naive CD8 T","x":440,"y":385,"y2":395},{"cluster":"naive CD8 T","x":446,"y":383,"y2":400},{"cluster":"naive CD8 T","x":452,"y":380,"y2":402},{"cluster":"naive CD8 T","x":458,"y":376,"y2":403},{"cluster":"naive CD8 T","x":464,"y":372,"y2":403},{"cluster":"naive CD8 T","x":470,"y":369,"y2":400},{"cluster":"naive CD8 T","x":475,"y":367,"y2":396},{"cluster":"naive CD8 T","x":480,"y":375,"y2":388},{"cluster":"naive CD8 T","x":482,"y":379,"y2":384},
{"cluster":"naive CD4 T","x":428,"y":365,"y2":380},{"cluster":"naive CD4 T","x":432,"y":355,"y2":385},{"cluster":"naive CD4 T","x":437,"y":350,"y2":387},{"cluster":"naive CD4 T","x":442,"y":346,"y2":388},{"cluster":"naive CD4 T","x":448,"y":343,"y2":387},{"cluster":"naive CD4 T","x":454,"y":342,"y2":384},{"cluster":"naive CD4 T","x":460,"y":345,"y2":381},{"cluster":"naive CD4 T","x":466,"y":350,"y2":377},{"cluster":"naive CD4 T","x":472,"y":357,"y2":370},
{"cluster":"regulatory T","x":460,"y":322,"y2":332},{"cluster":"regulatory T","x":463,"y":305,"y2":330},{"cluster":"regulatory T","x":466,"y":298,"y2":325},{"cluster":"regulatory T","x":470,"y":301,"y2":322},{"cluster":"regulatory T","x":475,"y":306,"y2":318},{"cluster":"regulatory T","x":480,"y":311,"y2":316},
{"cluster":"activated CD4 T","x":455,"y":343,"y2":347},{"cluster":"activated CD4 T","x":460,"y":337,"y2":352},{"cluster":"activated CD4 T","x":465,"y":330,"y2":358},{"cluster":"activated CD4 T","x":470,"y":324,"y2":365},{"cluster":"activated CD4 T","x":475,"y":318,"y2":372},{"cluster":"activated CD4 T","x":480,"y":313,"y2":377},{"cluster":"activated CD4 T","x":485,"y":317,"y2":374},{"cluster":"activated CD4 T","x":490,"y":321,"y2":368},{"cluster":"activated CD4 T","x":495,"y":325,"y2":362},{"cluster":"activated CD4 T","x":500,"y":329,"y2":355},{"cluster":"activated CD4 T","x":505,"y":334,"y2":346},{"cluster":"activated CD4 T","x":507,"y":337,"y2":341},
{"cluster":"memory CD8 T","x":508,"y":335,"y2":343},{"cluster":"memory CD8 T","x":512,"y":333,"y2":347},{"cluster":"memory CD8 T","x":517,"y":331,"y2":350},{"cluster":"memory CD8 T","x":522,"y":330,"y2":351},{"cluster":"memory CD8 T","x":527,"y":331,"y2":350},{"cluster":"memory CD8 T","x":530,"y":333,"y2":345},
{"cluster":"cytotoxic CD8 T","x":507,"y":330,"y2":338},{"cluster":"cytotoxic CD8 T","x":511,"y":322,"y2":335},{"cluster":"cytotoxic CD8 T","x":516,"y":312,"y2":332},{"cluster":"cytotoxic CD8 T","x":521,"y":308,"y2":330},{"cluster":"cytotoxic CD8 T","x":526,"y":306,"y2":328},{"cluster":"cytotoxic CD8 T","x":531,"y":304,"y2":325},{"cluster":"cytotoxic CD8 T","x":536,"y":303,"y2":322},{"cluster":"cytotoxic CD8 T","x":541,"y":303,"y2":320},{"cluster":"cytotoxic CD8 T","x":545,"y":306,"y2":318},{"cluster":"cytotoxic CD8 T","x":548,"y":311,"y2":316},
{"cluster":"cytotoxic NK cell","x":545,"y":300,"y2":316},{"cluster":"cytotoxic NK cell","x":549,"y":298,"y2":317},{"cluster":"cytotoxic NK cell","x":554,"y":296,"y2":318},{"cluster":"cytotoxic NK cell","x":558,"y":295,"y2":319},{"cluster":"cytotoxic NK cell","x":561,"y":294,"y2":322},{"cluster":"cytotoxic NK cell","x":564,"y":302,"y2":322},{"cluster":"cytotoxic NK cell","x":567,"y":312,"y2":320},
{"cluster":"adaptive NK cell","x":560,"y":319,"y2":322},{"cluster":"adaptive NK cell","x":564,"y":318,"y2":324},{"cluster":"adaptive NK cell","x":568,"y":317,"y2":325},{"cluster":"adaptive NK cell","x":571,"y":318,"y2":324},{"cluster":"adaptive NK cell","x":573,"y":320,"y2":322}]},
"mark":{"type":"area"},"encoding":{"x":{"field":"x","type":"quantitative","axis":null,"scale":{"domain":[0,990],"range":[0,990],"nice":false,"zero":false}},"y":{"field":"y","type":"quantitative","axis":null,"stack":null,"scale":{"domain":[0,1050],"range":[0,1050],"nice":false,"zero":false}},"y2":{"field":"y2"},
"color":{"field":"cluster","type":"nominal","legend":null,"scale":{"domain":["naive B","memory B","plasma","alpha","beta","gamma","delta","HSC","megakaryocyte","pancreatic macrophage","non-classical monocyte","classical monocyte","conventional dendritic","plasmacytoid dendritic","quiescent stellate","activated stellate","endothel","schwann","ductal","acinar","adaptive NK cell","cytotoxic NK cell","cytotoxic CD8 T","memory CD8 T","activated CD4 T","naive CD8 T","naive CD4 T","regulatory T","γδ T","endothelial"],"range":["#DDA0DD","#A9559B","#8B008B","#647D3A","#2FA558","#00FF00","#006400","#DC143C","#FF0000","#FFB6C1","#CD5C6C","#8B0000","#FA8072","#FF00FF","#FAD0A0","#FF8C00","#A0522D","#FFD700","#DAA520","#008080","#9460B8","#C3A8D3","#5050A0","#4E67A3","#2F80BD","#A0A0DF","#9BC8E0","#00BFFF","#000080","#A0522D"]}}}},
{"data":{"values":[{"cluster":"beta","x":355,"y":333},{"cluster":"beta","x":393,"y":335},{"cluster":"beta","x":396,"y":352},{"cluster":"beta","x":390,"y":357},{"cluster":"beta","x":352,"y":346},{"cluster":"beta","x":380,"y":328},{"cluster":"gamma","x":325,"y":287},{"cluster":"gamma","x":319,"y":305},{"cluster":"delta","x":318,"y":313},{"cluster":"delta","x":335,"y":323},{"cluster":"delta","x":322,"y":310},{"cluster":"HSC","x":295,"y":307},{"cluster":"non-classical monocyte","x":478,"y":114},{"cluster":"non-classical monocyte","x":482,"y":118},{"cluster":"non-classical monocyte","x":485,"y":119},{"cluster":"non-classical monocyte","x":490,"y":116},{"cluster":"non-classical monocyte","x":475,"y":110},{"cluster":"conventional dendritic","x":463,"y":138},{"cluster":"conventional dendritic","x":468,"y":137},{"cluster":"conventional dendritic","x":466,"y":140},{"cluster":"conventional dendritic","x":495,"y":135},{"cluster":"conventional dendritic","x":492,"y":140},{"cluster":"conventional dendritic","x":487,"y":142},{"cluster":"conventional dendritic","x":491,"y":136},{"cluster":"conventional dendritic","x":484,"y":144},{"cluster":"conventional dendritic","x":498,"y":143},{"cluster":"regulatory T","x":465,"y":296},{"cluster":"regulatory T","x":469,"y":298},{"cluster":"regulatory T","x":458,"y":330},{"cluster":"cytotoxic CD8 T","x":507,"y":313},{"cluster":"cytotoxic CD8 T","x":500,"y":309},{"cluster":"cytotoxic CD8 T","x":510,"y":315},{"cluster":"cytotoxic CD8 T","x":515,"y":310},{"cluster":"cytotoxic CD8 T","x":505,"y":322},{"cluster":"cytotoxic CD8 T","x":512,"y":318},{"cluster":"naive CD4 T","x":425,"y":365},{"cluster":"naive CD4 T","x":428,"y":360},{"cluster":"activated CD4 T","x":500,"y":358},{"cluster":"activated CD4 T","x":503,"y":353},{"cluster":"acinar","x":431,"y":238},{"cluster":"activated stellate","x":592,"y":227},{"cluster":"classical monocyte","x":498,"y":134},{"cluster":"classical monocyte","x":545,"y":155}]},
"mark":{"type":"point","filled":true,"size":5,"opacity":1},"encoding":{"x":{"field":"x","type":"quantitative"},"y":{"field":"y","type":"quantitative"},"color":{"field":"cluster","type":"nominal","legend":null,"scale":{"domain":["beta","gamma","delta","HSC","non-classical monocyte","conventional dendritic","regulatory T","cytotoxic CD8 T","naive CD4 T","activated CD4 T","acinar","activated stellate","classical monocyte"],"range":["#2FA558","#00FF00","#006400","#DC143C","#CD5C6C","#FA8072","#00BFFF","#5050A0","#9BC8E0","#2F80BD","#008080","#FF8C00","#8B0000"]}}}},
{"data":{"values":[{"l":"naive B","i":0,"x":240,"y":95},{"l":"naive B","i":1,"x":307,"y":95},{"l":"memory B","i":0,"x":240,"y":111},{"l":"memory B","i":1,"x":296,"y":111},{"l":"plasma","i":0,"x":240,"y":127},{"l":"plasma","i":1,"x":262,"y":127},{"l":"plasma","i":2,"x":262,"y":166},{"l":"alpha","i":0,"x":240,"y":249},{"l":"alpha","i":1,"x":308,"y":249},{"l":"beta","i":0,"x":240,"y":265},{"l":"beta","i":1,"x":372,"y":265},{"l":"beta","i":2,"x":372,"y":329},{"l":"gamma","i":0,"x":240,"y":282},{"l":"gamma","i":1,"x":329,"y":282},{"l":"gamma","i":2,"x":329,"y":291},{"l":"delta","i":0,"x":233,"y":303},{"l":"delta","i":1,"x":233,"y":320.7},{"l":"delta","i":2,"x":321,"y":320.7},{"l":"HSC","i":0,"x":240,"y":435},{"l":"HSC","i":1,"x":296,"y":435},{"l":"HSC","i":2,"x":296,"y":316},{"l":"gd","i":0,"x":303.3,"y":296},{"l":"gd","i":1,"x":303.3,"y":488},{"l":"gd","i":2,"x":684,"y":488},{"l":"pDC","i":0,"x":357,"y":467.5},{"l":"pDC","i":1,"x":399.5,"y":467.5},{"l":"pDC","i":2,"x":399.5,"y":171.7},{"l":"pDC","i":3,"x":573,"y":171.7},{"l":"pDC","i":4,"x":573,"y":134},{"l":"pDC","i":5,"x":684,"y":134},{"l":"mk","i":0,"x":354.7,"y":167},{"l":"mk","i":1,"x":354.7,"y":54.5},{"l":"mk","i":2,"x":684,"y":54.5},{"l":"mac","i":0,"x":684,"y":70},{"l":"mac","i":1,"x":467.7,"y":70},{"l":"mac","i":2,"x":467.7,"y":118},{"l":"mac","i":3,"x":470,"y":118},{"l":"nc","i":0,"x":505,"y":86},{"l":"nc","i":1,"x":684,"y":86},{"l":"cl","i":0,"x":528,"y":102},{"l":"cl","i":1,"x":684,"y":102},{"l":"cDC","i":0,"x":684,"y":118},{"l":"cDC","i":1,"x":557,"y":118},{"l":"cDC","i":2,"x":557,"y":155},{"l":"cDC","i":3,"x":470,"y":155},{"l":"qui","i":0,"x":610,"y":207.5},{"l":"qui","i":1,"x":684,"y":207.5},{"l":"act","i":0,"x":608,"y":223.7},{"l":"act","i":1,"x":684,"y":223.7},{"l":"endo","i":0,"x":664,"y":239.7},{"l":"endo","i":1,"x":684,"y":239.7},{"l":"sch","i":0,"x":616,"y":246},{"l":"sch","i":1,"x":616,"y":255.7},{"l":"sch","i":2,"x":684,"y":255.7},{"l":"duc","i":0,"x":449,"y":267},{"l":"duc","i":1,"x":449,"y":272},{"l":"duc","i":2,"x":684,"y":272},{"l":"aci","i":0,"x":422,"y":237},{"l":"aci","i":1,"x":422,"y":288},{"l":"aci","i":2,"x":684,"y":288},{"l":"aNK","i":0,"x":567.3,"y":325},{"l":"aNK","i":1,"x":567.3,"y":359.3},{"l":"aNK","i":2,"x":684,"y":359.3},{"l":"cNK","i":0,"x":553.7,"y":318},{"l":"cNK","i":1,"x":553.7,"y":375.7},{"l":"cNK","i":2,"x":684,"y":375.7},{"l":"c8","i":0,"x":537.7,"y":322},{"l":"c8","i":1,"x":537.7,"y":391.3},{"l":"c8","i":2,"x":684,"y":391.3},{"l":"m8","i":0,"x":520.7,"y":350},{"l":"m8","i":1,"x":520.7,"y":407.3},{"l":"m8","i":2,"x":684,"y":407.3},{"l":"a4","i":0,"x":496,"y":362},{"l":"a4","i":1,"x":496,"y":423.3},{"l":"a4","i":2,"x":684,"y":423.3},{"l":"n8","i":0,"x":456,"y":403},{"l":"n8","i":1,"x":456,"y":439.3},{"l":"n8","i":2,"x":684,"y":439.3},{"l":"n4","i":0,"x":430,"y":386},{"l":"n4","i":1,"x":430,"y":455.3},{"l":"n4","i":2,"x":684,"y":455.3},{"l":"reg","i":0,"x":463,"y":316.7},{"l":"reg","i":1,"x":414.3,"y":316.7},{"l":"reg","i":2,"x":414.3,"y":471.3},{"l":"reg","i":3,"x":684,"y":471.3}]},
"mark":{"type":"line","stroke":"#333","strokeWidth":1,"strokeDash":[1.4,1.4]},"encoding":{"x":{"field":"x","type":"quantitative"},"y":{"field":"y","type":"quantitative"},"detail":{"field":"l"},"order":{"field":"i"}}},
{"data":{"values":[{"l":"UMAP 1","i":0,"x":55,"y":50},{"l":"UMAP 1","i":1,"x":103,"y":50},{"l":"UMAP 2","i":0,"x":55,"y":50},{"l":"UMAP 2","i":1,"x":55,"y":98}]},"mark":{"type":"line","stroke":"#000","strokeWidth":1.2},"encoding":{"x":{"field":"x","type":"quantitative"},"y":{"field":"y","type":"quantitative"},"detail":{"field":"l"},"order":{"field":"i"}}},
{"data":{"values":[{"x":105.5,"y":50}]},"mark":{"type":"point","shape":"triangle-right","filled":true,"fill":"#000","stroke":null,"size":130,"opacity":1},"encoding":{"x":{"field":"x","type":"quantitative"},"y":{"field":"y","type":"quantitative"}}},
{"data":{"values":[{"x":55,"y":100}]},"mark":{"type":"point","shape":"triangle-down","filled":true,"fill":"#000","stroke":null,"size":130,"opacity":1},"encoding":{"x":{"field":"x","type":"quantitative"},"y":{"field":"y","type":"quantitative"}}},
{"data":{"values":[{"cluster":"naive B","x":233,"y":95},{"cluster":"memory B","x":233,"y":111},{"cluster":"plasma","x":233,"y":127},{"cluster":"alpha","x":233,"y":249},{"cluster":"beta","x":233,"y":265},{"cluster":"gamma","x":233,"y":282},{"cluster":"delta","x":233,"y":298},{"cluster":"HSC","x":233,"y":435},{"cluster":"megakaryocyte","x":690,"y":54.5},{"cluster":"pancreatic macrophage","x":690,"y":70},{"cluster":"non-classical monocyte","x":690,"y":86},{"cluster":"classical monocyte","x":690,"y":102},{"cluster":"conventional dendritic","x":690,"y":118},{"cluster":"plasmacytoid dendritic","x":690,"y":134},{"cluster":"quiescent stellate","x":690,"y":207.5},{"cluster":"activated stellate","x":690,"y":223.7},{"cluster":"endothelial","x":690,"y":239.7},{"cluster":"schwann","x":690,"y":255.7},{"cluster":"ductal","x":690,"y":272},{"cluster":"acinar","x":690,"y":288},{"cluster":"adaptive NK cell","x":690,"y":359.3},{"cluster":"cytotoxic NK cell","x":690,"y":375.7},{"cluster":"cytotoxic CD8 T","x":690,"y":391.3},{"cluster":"memory CD8 T","x":690,"y":407.3},{"cluster":"activated CD4 T","x":690,"y":423.3},{"cluster":"naive CD8 T","x":690,"y":439.3},{"cluster":"naive CD4 T","x":690,"y":455.3},{"cluster":"regulatory T","x":690,"y":471.3},{"cluster":"γδ T","x":690,"y":488}]},
"mark":{"type":"point","filled":true,"size":85,"stroke":"#111","strokeWidth":1,"opacity":1},"encoding":{"x":{"field":"x","type":"quantitative"},"y":{"field":"y","type":"quantitative"},"color":{"field":"cluster","type":"nominal","legend":null,"scale":{"domain":["naive B","memory B","plasma","alpha","beta","gamma","delta","HSC","megakaryocyte","pancreatic macrophage","non-classical monocyte","classical monocyte","conventional dendritic","plasmacytoid dendritic","quiescent stellate","activated stellate","endothelial","schwann","ductal","acinar","adaptive NK cell","cytotoxic NK cell","cytotoxic CD8 T","memory CD8 T","activated CD4 T","naive CD8 T","naive CD4 T","regulatory T","γδ T"],"range":["#DDA0DD","#A9559B","#8B008B","#647D3A","#2FA558","#00FF00","#006400","#DC143C","#FF0000","#FFB6C1","#CD5C6C","#8B0000","#FA8072","#FF00FF","#FAD0A0","#FF8C00","#A0522D","#FFD700","#DAA520","#008080","#9460B8","#C3A8D3","#5050A0","#483D8B","#2F80BD","#A0A0DF","#9BC8E0","#00BFFF","#000080"]}}}},
{"data":{"values":[{"v":0,"x":303,"y":545},{"v":25,"x":321,"y":545.5},{"v":50,"x":341,"y":545},{"v":75,"x":361,"y":544},{"v":100,"x":382,"y":543}]},"mark":{"type":"point","filled":true,"fill":"#bbb","stroke":"#111","strokeWidth":0.8,"opacity":1},"encoding":{"x":{"field":"x","type":"quantitative"},"y":{"field":"y","type":"quantitative"},"size":{"field":"v","type":"quantitative","legend":null,"scale":{"type":"pow","exponent":2,"domain":[0,100],"range":[1,110]}}}},
{"data":{"values":[{"x":303,"y":557,"t":"0"},{"x":321,"y":557,"t":"25"},{"x":341,"y":557,"t":"50"},{"x":361,"y":557,"t":"75"},{"x":382,"y":557,"t":"100"}]},"mark":{"type":"text","align":"center","baseline":"middle","fontSize":14},"encoding":{"x":{"field":"x","type":"quantitative"},"y":{"field":"y","type":"quantitative"},"text":{"field":"t"}}},
{"data":{"values":[{"x":700,"y":54.5,"t":"megakaryocyte"},{"x":700,"y":70,"t":"pancreatic macrophage"},{"x":700,"y":86,"t":"non-classical monocyte"},{"x":700,"y":102,"t":"classical monocyte"},{"x":700,"y":118,"t":"conventional dendritic"},{"x":700,"y":134,"t":"plasmacytoid dendritic"},{"x":700,"y":207.5,"t":"quiescent stellate"},{"x":700,"y":223.7,"t":"activated stellate"},{"x":700,"y":239.7,"t":"endothelial"},{"x":700,"y":255.7,"t":"schwann"},{"x":700,"y":272,"t":"ductal"},{"x":700,"y":288,"t":"acinar"},{"x":700,"y":359.3,"t":"adaptive NK cell"},{"x":700,"y":375.7,"t":"cytotoxic NK cell"},{"x":700,"y":391.3,"t":"cytotoxic CD8 T"},{"x":700,"y":407.3,"t":"memory CD8 T"},{"x":700,"y":423.3,"t":"activated CD4 T"},{"x":700,"y":439.3,"t":"naive CD8 T"},{"x":700,"y":455.3,"t":"naive CD4 T"},{"x":700,"y":471.3,"t":"regulatory T"},{"x":700,"y":488,"t":"γδ T"},{"x":91,"y":95,"t":"(4,982)"},{"x":91,"y":111,"t":"(3,895)"},{"x":91,"y":127,"t":"(163)"},{"x":91,"y":249,"t":"(5,469)"},{"x":91,"y":265,"t":"(6,687)"},{"x":91,"y":282,"t":"(454)"},{"x":91,"y":298,"t":"(759)"},{"x":91,"y":435,"t":"(136)"},{"x":219,"y":544,"t":"relative gene"},{"x":219,"y":559.5,"t":"expression"},{"x":750,"y":543.5,"t":"pearson"},{"x":750,"y":558,"t":"correlation"}]},"mark":{"type":"text","align":"left","baseline":"middle","fontSize":14},"encoding":{"x":{"field":"x","type":"quantitative"},"y":{"field":"y","type":"quantitative"},"text":{"field":"t"}}},
{"data":{"values":[{"x":222,"y":95,"t":"naive B"},{"x":222,"y":111,"t":"memory B"},{"x":222,"y":127,"t":"plasma"},{"x":222,"y":249,"t":"alpha"},{"x":222,"y":265,"t":"beta"},{"x":222,"y":282,"t":"gamma"},{"x":222,"y":297,"t":"delta"},{"x":222,"y":435,"t":"HSC"},{"x":906.5,"y":54.5,"t":"(287)"},{"x":906.5,"y":70,"t":"(129)"},{"x":906.5,"y":86,"t":"(4,507)"},{"x":906.5,"y":102,"t":"(16,735)"},{"x":906.5,"y":118,"t":"(1,136)"},{"x":906.5,"y":134,"t":"(509)"},{"x":905,"y":207.5,"t":"(239)"},{"x":905,"y":223.7,"t":"(845)"},{"x":905,"y":239.7,"t":"(436)"},{"x":905,"y":255.7,"t":"(40)"},{"x":905,"y":272,"t":"(1,168)"},{"x":905,"y":288,"t":"(761)"},{"x":906.5,"y":359.3,"t":"(259)"},{"x":906.5,"y":375.7,"t":"(3,481)"},{"x":906.5,"y":391.3,"t":"(4,884)"},{"x":906.5,"y":407.3,"t":"(2,106)"},{"x":906.5,"y":423.3,"t":"(11,764)"},{"x":906.5,"y":439.3,"t":"(6,410)"},{"x":906.5,"y":455.3,"t":"(11,175)"},{"x":906.5,"y":471.3,"t":"(856)"},{"x":906.5,"y":488,"t":"(223)"}]},"mark":{"type":"text","align":"right","baseline":"middle","fontSize":14},"encoding":{"x":{"field":"x","type":"quantitative"},"y":{"field":"y","type":"quantitative"},"text":{"field":"t"}}},
{"data":{"values":[{"x":685,"y":33,"t":"Myeloid cells"},{"x":685,"y":185.5,"t":"Other pancreatic cells"},{"x":685,"y":338,"t":"T and NK cells"}]},"mark":{"type":"text","align":"left","baseline":"middle","fontSize":17.4},"encoding":{"x":{"field":"x","type":"quantitative"},"y":{"field":"y","type":"quantitative"},"text":{"field":"t"}}},
{"data":{"values":[{"x":237.5,"y":74,"t":"B cells"},{"x":237.5,"y":210,"t":"Endocrine"},{"x":237.5,"y":228,"t":"pancreatic cells"},{"x":237.5,"y":414,"t":"Miscellaneous"}]},"mark":{"type":"text","align":"right","baseline":"middle","fontSize":17.4},"encoding":{"x":{"field":"x","type":"quantitative"},"y":{"field":"y","type":"quantitative"},"text":{"field":"t"}}},
{"data":{"values":[{"x":197,"y":1041.5,"t":"scRNA-seq marker genes"},{"x":711,"y":1041.5,"t":"scRNA-seq clusters"}]},"mark":{"type":"text","align":"center","baseline":"middle","fontSize":17.2},"encoding":{"x":{"field":"x","type":"quantitative"},"y":{"field":"y","type":"quantitative"},"text":{"field":"t"}}},
{"data":{"values":[{"x":485,"y":759,"t":"scRNA-seq clusters"},{"x":982,"y":760,"t":"snATAC-seq clusters"}]},"mark":{"type":"text","align":"center","baseline":"middle","fontSize":17.2,"angle":270},"encoding":{"x":{"field":"x","type":"quantitative"},"y":{"field":"y","type":"quantitative"},"text":{"field":"t"}}},
{"data":{"values":[{"x":81,"y":37,"t":"UMAP 1"}]},"mark":{"type":"text","align":"center","baseline":"middle","fontSize":13.4},"encoding":{"x":{"field":"x","type":"quantitative"},"y":{"field":"y","type":"quantitative"},"text":{"field":"t"}}},
{"data":{"values":[{"x":39,"y":75,"t":"UMAP 2"}]},"mark":{"type":"text","align":"center","baseline":"middle","fontSize":13.4,"angle":90},"encoding":{"x":{"field":"x","type":"quantitative"},"y":{"field":"y","type":"quantitative"},"text":{"field":"t"}}},
{"data":{"values":[{"x":0,"y":18,"t":"a"},{"x":0,"y":546,"t":"b"},{"x":539,"y":546,"t":"c"}]},"mark":{"type":"text","align":"left","baseline":"alphabetic","fontSize":30,"fontWeight":"bold","color":"#000"},"encoding":{"x":{"field":"x","type":"quantitative"},"y":{"field":"y","type":"quantitative"},"text":{"field":"t"}}},
{"data":{"values":[{"x":1.5,"x2":393.5,"y":570.5,"y2":951.5},{"x":539,"x2":879,"y":570.5,"y2":951.5}]},"mark":{"type":"rect","fill":null,"stroke":"#222","strokeWidth":1.5},"encoding":{"x":{"field":"x","type":"quantitative"},"x2":{"field":"x2"},"y":{"field":"y","type":"quantitative"},"y2":{"field":"y2"}}},
{"data":{"values":[{"x":485,"y":590,"y2":675},{"x":485,"y":843,"y2":931},{"x":982,"y":570,"y2":674},{"x":982,"y":847,"y2":952}]},"mark":{"type":"rule","stroke":"#333","strokeWidth":1.2},"encoding":{"x":{"field":"x","type":"quantitative"},"y":{"field":"y","type":"quantitative"},"y2":{"field":"y2"}}},
{"data":{"values":[{"x":27,"x2":91,"y":1042},{"x":304,"x2":368,"y":1042},{"x":539,"x2":627,"y":1042},{"x":795,"x2":879,"y":1042}]},"mark":{"type":"rule","stroke":"#333","strokeWidth":1.2},"encoding":{"x":{"field":"x","type":"quantitative"},"x2":{"field":"x2"},"y":{"field":"y","type":"quantitative"}}}
],"resolve":{"scale":{"color":"independent","size":"independent"}}}
]}
